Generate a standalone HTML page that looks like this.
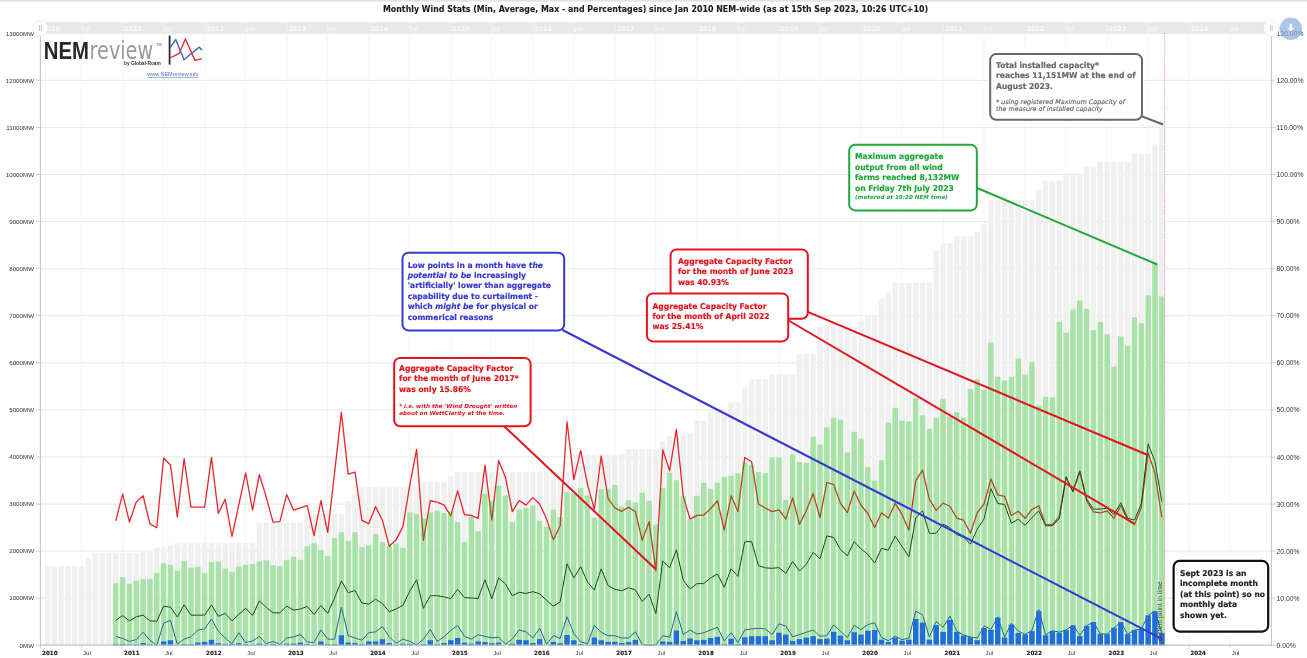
<!DOCTYPE html>
<html><head><meta charset="utf-8"><title>Monthly Wind Stats</title>
<style>html,body{margin:0;padding:0;background:#fff;overflow:hidden}body{width:1307px;height:658px;position:relative}</style>
</head><body>
<svg width="1307" height="658" viewBox="0 0 1307 658" style="position:absolute;left:0;top:0">
<rect x="0" y="0" width="1307" height="1.6" fill="#e2e2e2"/>
<text transform="translate(655.5,11.9) scale(0.94,1)" text-anchor="middle" font-family="'DejaVu Sans', 'Liberation Sans', sans-serif" font-weight="bold" font-size="8.4" fill="#1e1e1e" stroke="#1e1e1e" stroke-width="0.12">Monthly Wind Stats (Min, Average, Max - and Percentages) since Jan 2010 NEM-wide (as at 15th Sep 2023, 10:26 UTC+10)</text>
<line x1="40.8" x2="40.8" y1="33.2" y2="645.3" stroke="#f6f6f6" stroke-width="1"/>
<line x1="81.5" x2="81.5" y1="33.2" y2="645.3" stroke="#f6f6f6" stroke-width="1"/>
<line x1="122.8" x2="122.8" y1="33.2" y2="645.3" stroke="#f6f6f6" stroke-width="1"/>
<line x1="163.4" x2="163.4" y1="33.2" y2="645.3" stroke="#f6f6f6" stroke-width="1"/>
<line x1="204.8" x2="204.8" y1="33.2" y2="645.3" stroke="#f6f6f6" stroke-width="1"/>
<line x1="245.6" x2="245.6" y1="33.2" y2="645.3" stroke="#f6f6f6" stroke-width="1"/>
<line x1="287.0" x2="287.0" y1="33.2" y2="645.3" stroke="#f6f6f6" stroke-width="1"/>
<line x1="327.6" x2="327.6" y1="33.2" y2="645.3" stroke="#f6f6f6" stroke-width="1"/>
<line x1="369.0" x2="369.0" y1="33.2" y2="645.3" stroke="#f6f6f6" stroke-width="1"/>
<line x1="409.6" x2="409.6" y1="33.2" y2="645.3" stroke="#f6f6f6" stroke-width="1"/>
<line x1="450.9" x2="450.9" y1="33.2" y2="645.3" stroke="#f6f6f6" stroke-width="1"/>
<line x1="491.6" x2="491.6" y1="33.2" y2="645.3" stroke="#f6f6f6" stroke-width="1"/>
<line x1="532.9" x2="532.9" y1="33.2" y2="645.3" stroke="#f6f6f6" stroke-width="1"/>
<line x1="573.8" x2="573.8" y1="33.2" y2="645.3" stroke="#f6f6f6" stroke-width="1"/>
<line x1="615.1" x2="615.1" y1="33.2" y2="645.3" stroke="#f6f6f6" stroke-width="1"/>
<line x1="655.8" x2="655.8" y1="33.2" y2="645.3" stroke="#f6f6f6" stroke-width="1"/>
<line x1="697.1" x2="697.1" y1="33.2" y2="645.3" stroke="#f6f6f6" stroke-width="1"/>
<line x1="737.8" x2="737.8" y1="33.2" y2="645.3" stroke="#f6f6f6" stroke-width="1"/>
<line x1="779.1" x2="779.1" y1="33.2" y2="645.3" stroke="#f6f6f6" stroke-width="1"/>
<line x1="819.8" x2="819.8" y1="33.2" y2="645.3" stroke="#f6f6f6" stroke-width="1"/>
<line x1="861.1" x2="861.1" y1="33.2" y2="645.3" stroke="#f6f6f6" stroke-width="1"/>
<line x1="902.0" x2="902.0" y1="33.2" y2="645.3" stroke="#f6f6f6" stroke-width="1"/>
<line x1="943.3" x2="943.3" y1="33.2" y2="645.3" stroke="#f6f6f6" stroke-width="1"/>
<line x1="984.0" x2="984.0" y1="33.2" y2="645.3" stroke="#f6f6f6" stroke-width="1"/>
<line x1="1025.3" x2="1025.3" y1="33.2" y2="645.3" stroke="#f6f6f6" stroke-width="1"/>
<line x1="1065.9" x2="1065.9" y1="33.2" y2="645.3" stroke="#f6f6f6" stroke-width="1"/>
<line x1="1107.3" x2="1107.3" y1="33.2" y2="645.3" stroke="#f6f6f6" stroke-width="1"/>
<line x1="1147.9" x2="1147.9" y1="33.2" y2="645.3" stroke="#f6f6f6" stroke-width="1"/>
<line x1="1189.2" x2="1189.2" y1="33.2" y2="645.3" stroke="#f6f6f6" stroke-width="1"/>
<line x1="1230.1" x2="1230.1" y1="33.2" y2="645.3" stroke="#f6f6f6" stroke-width="1"/>
<line x1="40.4" x2="1271.4" y1="645.3" y2="645.3" stroke="#e8e8e8" stroke-width="1"/>
<line x1="40.4" x2="1271.4" y1="598.2" y2="598.2" stroke="#e8e8e8" stroke-width="1"/>
<line x1="40.4" x2="1271.4" y1="551.1" y2="551.1" stroke="#e8e8e8" stroke-width="1"/>
<line x1="40.4" x2="1271.4" y1="504.1" y2="504.1" stroke="#e8e8e8" stroke-width="1"/>
<line x1="40.4" x2="1271.4" y1="457.0" y2="457.0" stroke="#e8e8e8" stroke-width="1"/>
<line x1="40.4" x2="1271.4" y1="409.9" y2="409.9" stroke="#e8e8e8" stroke-width="1"/>
<line x1="40.4" x2="1271.4" y1="362.8" y2="362.8" stroke="#e8e8e8" stroke-width="1"/>
<line x1="40.4" x2="1271.4" y1="315.7" y2="315.7" stroke="#e8e8e8" stroke-width="1"/>
<line x1="40.4" x2="1271.4" y1="268.7" y2="268.7" stroke="#e8e8e8" stroke-width="1"/>
<line x1="40.4" x2="1271.4" y1="221.6" y2="221.6" stroke="#e8e8e8" stroke-width="1"/>
<line x1="40.4" x2="1271.4" y1="174.5" y2="174.5" stroke="#e8e8e8" stroke-width="1"/>
<line x1="40.4" x2="1271.4" y1="127.4" y2="127.4" stroke="#e8e8e8" stroke-width="1"/>
<line x1="40.4" x2="1271.4" y1="80.3" y2="80.3" stroke="#e8e8e8" stroke-width="1"/>
<line x1="40.4" x2="1271.4" y1="33.3" y2="33.3" stroke="#e8e8e8" stroke-width="1"/>
<rect x="44.65" y="566.02" width="5.5" height="79.28" fill="#f0f0f0"/>
<rect x="51.49" y="566.02" width="5.5" height="79.28" fill="#f0f0f0"/>
<rect x="58.32" y="566.02" width="5.5" height="79.28" fill="#f0f0f0"/>
<rect x="65.16" y="566.02" width="5.5" height="79.28" fill="#f0f0f0"/>
<rect x="72.00" y="566.02" width="5.5" height="79.28" fill="#f0f0f0"/>
<rect x="78.84" y="566.02" width="5.5" height="79.28" fill="#f0f0f0"/>
<rect x="85.67" y="558.48" width="5.5" height="86.82" fill="#f0f0f0"/>
<rect x="92.51" y="553.26" width="5.5" height="92.04" fill="#f0f0f0"/>
<rect x="99.35" y="553.26" width="5.5" height="92.04" fill="#f0f0f0"/>
<rect x="106.18" y="553.26" width="5.5" height="92.04" fill="#f0f0f0"/>
<rect x="113.02" y="553.26" width="5.5" height="92.04" fill="#f0f0f0"/>
<rect x="119.86" y="553.26" width="5.5" height="92.04" fill="#f0f0f0"/>
<rect x="126.69" y="553.26" width="5.5" height="92.04" fill="#f0f0f0"/>
<rect x="133.53" y="553.26" width="5.5" height="92.04" fill="#f0f0f0"/>
<rect x="140.37" y="551.14" width="5.5" height="94.16" fill="#f0f0f0"/>
<rect x="147.20" y="551.14" width="5.5" height="94.16" fill="#f0f0f0"/>
<rect x="154.04" y="547.75" width="5.5" height="97.55" fill="#f0f0f0"/>
<rect x="160.88" y="547.75" width="5.5" height="97.55" fill="#f0f0f0"/>
<rect x="167.72" y="545.49" width="5.5" height="99.81" fill="#f0f0f0"/>
<rect x="174.55" y="542.76" width="5.5" height="102.54" fill="#f0f0f0"/>
<rect x="181.39" y="542.76" width="5.5" height="102.54" fill="#f0f0f0"/>
<rect x="188.23" y="542.76" width="5.5" height="102.54" fill="#f0f0f0"/>
<rect x="195.06" y="542.76" width="5.5" height="102.54" fill="#f0f0f0"/>
<rect x="201.90" y="542.76" width="5.5" height="102.54" fill="#f0f0f0"/>
<rect x="208.74" y="542.76" width="5.5" height="102.54" fill="#f0f0f0"/>
<rect x="215.57" y="542.76" width="5.5" height="102.54" fill="#f0f0f0"/>
<rect x="222.41" y="542.76" width="5.5" height="102.54" fill="#f0f0f0"/>
<rect x="229.25" y="542.76" width="5.5" height="102.54" fill="#f0f0f0"/>
<rect x="236.09" y="542.76" width="5.5" height="102.54" fill="#f0f0f0"/>
<rect x="242.92" y="542.76" width="5.5" height="102.54" fill="#f0f0f0"/>
<rect x="249.76" y="542.76" width="5.5" height="102.54" fill="#f0f0f0"/>
<rect x="256.60" y="522.61" width="5.5" height="122.69" fill="#f0f0f0"/>
<rect x="263.43" y="522.61" width="5.5" height="122.69" fill="#f0f0f0"/>
<rect x="270.27" y="522.61" width="5.5" height="122.69" fill="#f0f0f0"/>
<rect x="277.11" y="522.61" width="5.5" height="122.69" fill="#f0f0f0"/>
<rect x="283.94" y="522.61" width="5.5" height="122.69" fill="#f0f0f0"/>
<rect x="290.78" y="522.61" width="5.5" height="122.69" fill="#f0f0f0"/>
<rect x="297.62" y="522.61" width="5.5" height="122.69" fill="#f0f0f0"/>
<rect x="304.46" y="514.04" width="5.5" height="131.26" fill="#f0f0f0"/>
<rect x="311.29" y="514.04" width="5.5" height="131.26" fill="#f0f0f0"/>
<rect x="318.13" y="514.04" width="5.5" height="131.26" fill="#f0f0f0"/>
<rect x="324.97" y="514.04" width="5.5" height="131.26" fill="#f0f0f0"/>
<rect x="331.80" y="514.04" width="5.5" height="131.26" fill="#f0f0f0"/>
<rect x="338.64" y="514.04" width="5.5" height="131.26" fill="#f0f0f0"/>
<rect x="345.48" y="501.00" width="5.5" height="144.30" fill="#f0f0f0"/>
<rect x="352.31" y="494.60" width="5.5" height="150.70" fill="#f0f0f0"/>
<rect x="359.15" y="487.30" width="5.5" height="158.00" fill="#f0f0f0"/>
<rect x="365.99" y="487.30" width="5.5" height="158.00" fill="#f0f0f0"/>
<rect x="372.83" y="487.30" width="5.5" height="158.00" fill="#f0f0f0"/>
<rect x="379.66" y="487.30" width="5.5" height="158.00" fill="#f0f0f0"/>
<rect x="386.50" y="487.30" width="5.5" height="158.00" fill="#f0f0f0"/>
<rect x="393.34" y="487.30" width="5.5" height="158.00" fill="#f0f0f0"/>
<rect x="400.17" y="487.30" width="5.5" height="158.00" fill="#f0f0f0"/>
<rect x="407.01" y="487.30" width="5.5" height="158.00" fill="#f0f0f0"/>
<rect x="413.85" y="487.30" width="5.5" height="158.00" fill="#f0f0f0"/>
<rect x="420.68" y="482.07" width="5.5" height="163.23" fill="#f0f0f0"/>
<rect x="427.52" y="482.07" width="5.5" height="163.23" fill="#f0f0f0"/>
<rect x="434.36" y="482.07" width="5.5" height="163.23" fill="#f0f0f0"/>
<rect x="441.20" y="482.07" width="5.5" height="163.23" fill="#f0f0f0"/>
<rect x="448.03" y="476.33" width="5.5" height="168.97" fill="#f0f0f0"/>
<rect x="454.87" y="472.05" width="5.5" height="173.25" fill="#f0f0f0"/>
<rect x="461.71" y="472.05" width="5.5" height="173.25" fill="#f0f0f0"/>
<rect x="468.54" y="472.05" width="5.5" height="173.25" fill="#f0f0f0"/>
<rect x="475.38" y="472.05" width="5.5" height="173.25" fill="#f0f0f0"/>
<rect x="482.22" y="472.05" width="5.5" height="173.25" fill="#f0f0f0"/>
<rect x="489.05" y="472.05" width="5.5" height="173.25" fill="#f0f0f0"/>
<rect x="495.89" y="472.05" width="5.5" height="173.25" fill="#f0f0f0"/>
<rect x="502.73" y="472.05" width="5.5" height="173.25" fill="#f0f0f0"/>
<rect x="509.57" y="472.05" width="5.5" height="173.25" fill="#f0f0f0"/>
<rect x="516.40" y="472.05" width="5.5" height="173.25" fill="#f0f0f0"/>
<rect x="523.24" y="472.05" width="5.5" height="173.25" fill="#f0f0f0"/>
<rect x="530.08" y="472.05" width="5.5" height="173.25" fill="#f0f0f0"/>
<rect x="536.91" y="472.05" width="5.5" height="173.25" fill="#f0f0f0"/>
<rect x="543.75" y="472.05" width="5.5" height="173.25" fill="#f0f0f0"/>
<rect x="550.59" y="472.05" width="5.5" height="173.25" fill="#f0f0f0"/>
<rect x="557.42" y="472.05" width="5.5" height="173.25" fill="#f0f0f0"/>
<rect x="564.26" y="472.05" width="5.5" height="173.25" fill="#f0f0f0"/>
<rect x="571.10" y="454.44" width="5.5" height="190.86" fill="#f0f0f0"/>
<rect x="577.94" y="454.44" width="5.5" height="190.86" fill="#f0f0f0"/>
<rect x="584.77" y="454.44" width="5.5" height="190.86" fill="#f0f0f0"/>
<rect x="591.61" y="454.44" width="5.5" height="190.86" fill="#f0f0f0"/>
<rect x="598.45" y="454.44" width="5.5" height="190.86" fill="#f0f0f0"/>
<rect x="605.28" y="454.44" width="5.5" height="190.86" fill="#f0f0f0"/>
<rect x="612.12" y="454.44" width="5.5" height="190.86" fill="#f0f0f0"/>
<rect x="618.96" y="453.78" width="5.5" height="191.52" fill="#f0f0f0"/>
<rect x="625.79" y="449.31" width="5.5" height="195.99" fill="#f0f0f0"/>
<rect x="632.63" y="449.31" width="5.5" height="195.99" fill="#f0f0f0"/>
<rect x="639.47" y="449.31" width="5.5" height="195.99" fill="#f0f0f0"/>
<rect x="646.31" y="449.31" width="5.5" height="195.99" fill="#f0f0f0"/>
<rect x="653.14" y="449.31" width="5.5" height="195.99" fill="#f0f0f0"/>
<rect x="659.98" y="440.97" width="5.5" height="204.33" fill="#f0f0f0"/>
<rect x="666.82" y="436.03" width="5.5" height="209.27" fill="#f0f0f0"/>
<rect x="673.65" y="436.03" width="5.5" height="209.27" fill="#f0f0f0"/>
<rect x="680.49" y="436.03" width="5.5" height="209.27" fill="#f0f0f0"/>
<rect x="687.33" y="433.30" width="5.5" height="212.00" fill="#f0f0f0"/>
<rect x="694.16" y="420.82" width="5.5" height="224.48" fill="#f0f0f0"/>
<rect x="701.00" y="420.82" width="5.5" height="224.48" fill="#f0f0f0"/>
<rect x="707.84" y="411.27" width="5.5" height="234.03" fill="#f0f0f0"/>
<rect x="714.68" y="411.27" width="5.5" height="234.03" fill="#f0f0f0"/>
<rect x="721.51" y="411.27" width="5.5" height="234.03" fill="#f0f0f0"/>
<rect x="728.35" y="402.51" width="5.5" height="242.79" fill="#f0f0f0"/>
<rect x="735.19" y="402.51" width="5.5" height="242.79" fill="#f0f0f0"/>
<rect x="742.02" y="387.44" width="5.5" height="257.86" fill="#f0f0f0"/>
<rect x="748.86" y="379.20" width="5.5" height="266.10" fill="#f0f0f0"/>
<rect x="755.70" y="379.20" width="5.5" height="266.10" fill="#f0f0f0"/>
<rect x="762.53" y="379.20" width="5.5" height="266.10" fill="#f0f0f0"/>
<rect x="769.37" y="374.26" width="5.5" height="271.04" fill="#f0f0f0"/>
<rect x="776.21" y="374.26" width="5.5" height="271.04" fill="#f0f0f0"/>
<rect x="783.05" y="374.26" width="5.5" height="271.04" fill="#f0f0f0"/>
<rect x="789.88" y="374.26" width="5.5" height="271.04" fill="#f0f0f0"/>
<rect x="796.72" y="353.87" width="5.5" height="291.43" fill="#f0f0f0"/>
<rect x="803.56" y="353.87" width="5.5" height="291.43" fill="#f0f0f0"/>
<rect x="810.39" y="353.87" width="5.5" height="291.43" fill="#f0f0f0"/>
<rect x="817.23" y="326.85" width="5.5" height="318.45" fill="#f0f0f0"/>
<rect x="824.07" y="326.85" width="5.5" height="318.45" fill="#f0f0f0"/>
<rect x="830.90" y="326.85" width="5.5" height="318.45" fill="#f0f0f0"/>
<rect x="837.74" y="326.85" width="5.5" height="318.45" fill="#f0f0f0"/>
<rect x="844.58" y="326.85" width="5.5" height="318.45" fill="#f0f0f0"/>
<rect x="851.42" y="326.85" width="5.5" height="318.45" fill="#f0f0f0"/>
<rect x="858.25" y="321.11" width="5.5" height="324.19" fill="#f0f0f0"/>
<rect x="865.09" y="314.52" width="5.5" height="330.78" fill="#f0f0f0"/>
<rect x="871.93" y="314.52" width="5.5" height="330.78" fill="#f0f0f0"/>
<rect x="878.76" y="298.65" width="5.5" height="346.65" fill="#f0f0f0"/>
<rect x="885.60" y="292.34" width="5.5" height="352.96" fill="#f0f0f0"/>
<rect x="892.44" y="282.74" width="5.5" height="362.56" fill="#f0f0f0"/>
<rect x="899.27" y="282.74" width="5.5" height="362.56" fill="#f0f0f0"/>
<rect x="906.11" y="282.74" width="5.5" height="362.56" fill="#f0f0f0"/>
<rect x="912.95" y="282.74" width="5.5" height="362.56" fill="#f0f0f0"/>
<rect x="919.79" y="282.74" width="5.5" height="362.56" fill="#f0f0f0"/>
<rect x="926.62" y="282.74" width="5.5" height="362.56" fill="#f0f0f0"/>
<rect x="933.46" y="250.96" width="5.5" height="394.34" fill="#f0f0f0"/>
<rect x="940.30" y="243.28" width="5.5" height="402.02" fill="#f0f0f0"/>
<rect x="947.13" y="243.28" width="5.5" height="402.02" fill="#f0f0f0"/>
<rect x="953.97" y="235.89" width="5.5" height="409.41" fill="#f0f0f0"/>
<rect x="960.81" y="235.89" width="5.5" height="409.41" fill="#f0f0f0"/>
<rect x="967.64" y="235.89" width="5.5" height="409.41" fill="#f0f0f0"/>
<rect x="974.48" y="231.75" width="5.5" height="413.55" fill="#f0f0f0"/>
<rect x="981.32" y="224.36" width="5.5" height="420.94" fill="#f0f0f0"/>
<rect x="988.16" y="200.25" width="5.5" height="445.05" fill="#f0f0f0"/>
<rect x="994.99" y="200.25" width="5.5" height="445.05" fill="#f0f0f0"/>
<rect x="1001.83" y="200.25" width="5.5" height="445.05" fill="#f0f0f0"/>
<rect x="1008.67" y="200.25" width="5.5" height="445.05" fill="#f0f0f0"/>
<rect x="1015.50" y="200.25" width="5.5" height="445.05" fill="#f0f0f0"/>
<rect x="1022.34" y="200.25" width="5.5" height="445.05" fill="#f0f0f0"/>
<rect x="1029.18" y="200.25" width="5.5" height="445.05" fill="#f0f0f0"/>
<rect x="1036.02" y="190.51" width="5.5" height="454.79" fill="#f0f0f0"/>
<rect x="1042.85" y="180.62" width="5.5" height="464.68" fill="#f0f0f0"/>
<rect x="1049.69" y="180.62" width="5.5" height="464.68" fill="#f0f0f0"/>
<rect x="1056.53" y="180.62" width="5.5" height="464.68" fill="#f0f0f0"/>
<rect x="1063.36" y="173.51" width="5.5" height="471.79" fill="#f0f0f0"/>
<rect x="1070.20" y="173.51" width="5.5" height="471.79" fill="#f0f0f0"/>
<rect x="1077.04" y="173.51" width="5.5" height="471.79" fill="#f0f0f0"/>
<rect x="1083.87" y="166.92" width="5.5" height="478.38" fill="#f0f0f0"/>
<rect x="1090.71" y="166.92" width="5.5" height="478.38" fill="#f0f0f0"/>
<rect x="1097.55" y="161.84" width="5.5" height="483.46" fill="#f0f0f0"/>
<rect x="1104.38" y="161.84" width="5.5" height="483.46" fill="#f0f0f0"/>
<rect x="1111.22" y="161.84" width="5.5" height="483.46" fill="#f0f0f0"/>
<rect x="1118.06" y="161.84" width="5.5" height="483.46" fill="#f0f0f0"/>
<rect x="1124.90" y="161.84" width="5.5" height="483.46" fill="#f0f0f0"/>
<rect x="1131.73" y="153.64" width="5.5" height="491.66" fill="#f0f0f0"/>
<rect x="1138.57" y="153.64" width="5.5" height="491.66" fill="#f0f0f0"/>
<rect x="1145.41" y="153.64" width="5.5" height="491.66" fill="#f0f0f0"/>
<rect x="1152.24" y="144.46" width="5.5" height="500.84" fill="#f0f0f0"/>
<rect x="1159.08" y="120.31" width="5.5" height="524.99" fill="#f0f0f0"/>
<polyline points="115.77,520.87 122.61,493.94 129.44,522.04 136.28,501.94 143.12,495.77 149.95,523.83 156.79,527.74 163.63,458.06 170.47,464.94 177.30,517.01 184.14,458.53 190.98,507.17 197.81,507.17 204.65,507.17 211.49,457.40 218.32,513.57 225.16,499.21 232.00,536.40 238.84,504.67 245.67,472.94 252.51,510.13 259.35,474.54 266.18,496.90 273.02,522.04 279.86,521.57 286.69,494.60 293.53,510.13 300.37,507.87 307.21,505.57 314.04,535.74 320.88,500.76 327.72,532.31 334.55,472.94 341.39,412.40 348.23,474.07 355.06,472.23 361.90,520.44 368.74,523.83 375.58,506.70 382.41,520.21 389.25,546.29 396.09,539.84 402.92,526.61 409.76,485.46 416.60,449.40 423.43,540.31 430.27,500.76 437.11,502.18 443.95,504.91 450.78,515.88 457.62,490.88 464.46,514.75 471.29,515.41 478.13,518.37 484.97,465.17 491.80,519.97 498.64,460.61 505.48,477.27 512.32,511.55 519.15,500.58 525.99,505.14 532.83,497.61 539.66,504.01 546.50,518.84 553.34,539.84 560.17,525.72 567.01,421.76 573.85,479.58 580.69,450.34 587.52,484.57 594.36,509.24 601.20,456.04 608.03,498.32 614.87,507.87 621.71,511.31 628.54,507.40 635.38,511.55 642.22,540.31 649.06,521.71 655.89,570.63 662.73,449.78 669.57,470.87 676.40,429.44 683.24,496.24 690.08,519.13 696.91,515.36 703.75,514.98 710.59,508.77 717.43,500.58 724.26,530.00 731.10,495.82 737.94,511.59 744.77,457.45 751.61,461.69 758.45,504.06 765.28,507.97 772.12,511.55 778.96,509.90 785.80,518.94 792.63,497.85 799.47,524.30 806.31,510.75 813.14,493.47 819.98,517.57 826.82,482.50 833.65,484.66 840.49,503.31 847.33,512.63 854.17,490.97 861.00,505.24 867.84,513.48 874.68,527.60 881.51,512.82 888.35,518.00 895.19,503.35 902.02,514.42 908.86,530.19 915.70,480.90 922.54,470.12 929.37,499.35 936.21,510.42 943.05,503.12 949.88,506.27 956.72,518.04 963.56,520.07 970.39,533.20 977.23,512.77 984.07,504.01 990.91,478.97 997.74,494.88 1004.58,496.34 1011.42,515.50 1018.25,511.31 1025.09,518.23 1031.93,509.47 1038.77,505.80 1045.60,524.63 1052.44,524.63 1059.28,516.39 1066.11,477.70 1072.95,491.21 1079.79,471.67 1086.62,500.91 1093.46,511.83 1100.30,512.77 1107.13,510.93 1113.97,518.23 1120.81,505.47 1127.65,520.07 1134.48,524.63 1141.32,507.26 1148.16,452.60 1154.99,473.51 1161.83,517.34" fill="none" stroke="#e8262b" stroke-width="1.3" stroke-linejoin="round"/>
<polyline points="115.77,620.39 122.61,615.59 129.44,620.87 136.28,616.77 143.12,615.17 149.95,620.87 156.79,621.34 163.63,606.22 170.47,607.17 177.30,616.96 184.14,604.86 190.98,615.17 197.81,615.17 204.65,615.17 211.49,604.86 218.32,616.30 225.16,613.33 232.00,620.87 238.84,614.46 245.67,608.30 252.51,615.40 259.35,601.00 266.18,607.17 273.02,612.86 279.86,612.86 286.69,605.99 293.53,610.13 300.37,609.00 307.21,606.46 314.04,614.46 320.88,605.56 327.72,613.33 334.55,598.03 341.39,580.89 348.23,592.76 355.06,590.50 361.90,603.02 368.74,604.20 375.58,599.16 382.41,603.73 389.25,611.73 396.09,609.00 402.92,605.33 409.76,591.16 416.60,579.72 423.43,608.30 430.27,595.72 437.11,595.72 443.95,596.85 450.78,598.69 457.62,589.32 464.46,597.56 471.29,598.03 478.13,598.46 484.97,579.72 491.80,598.69 498.64,577.93 505.48,583.86 512.32,595.72 519.15,592.29 525.99,593.46 532.83,591.63 539.66,593.89 546.50,600.29 553.34,606.22 560.17,601.89 567.01,563.76 573.85,577.93 580.69,566.72 587.52,582.02 594.36,590.03 601.20,568.79 608.03,585.46 614.87,589.32 621.71,590.69 628.54,587.72 635.38,590.03 642.22,601.42 649.06,594.12 655.89,613.57 662.73,561.03 669.57,567.85 676.40,549.82 683.24,580.19 690.08,588.90 696.91,583.63 703.75,583.63 710.59,577.93 717.43,574.02 724.26,587.30 731.10,568.79 737.94,576.33 744.77,541.82 751.61,541.54 758.45,565.59 765.28,567.85 772.12,568.32 778.96,567.62 785.80,573.36 792.63,561.45 799.47,571.05 806.31,564.23 813.14,552.32 819.98,558.72 826.82,535.89 833.65,537.49 840.49,549.59 847.33,555.75 854.17,541.58 861.00,548.88 867.84,554.44 874.68,563.05 881.51,548.27 888.35,550.10 895.19,536.12 902.02,546.48 908.86,556.84 915.70,518.00 922.54,510.79 929.37,533.30 936.21,533.30 943.05,524.21 949.88,527.60 956.72,534.57 963.56,537.16 970.39,544.08 977.23,529.20 984.07,518.84 990.91,488.71 997.74,503.50 1004.58,504.44 1011.42,523.27 1018.25,519.13 1025.09,525.34 1031.93,517.48 1038.77,510.93 1045.60,525.72 1052.44,525.72 1059.28,518.70 1066.11,476.61 1072.95,491.77 1079.79,470.73 1086.62,499.07 1093.46,509.10 1100.30,509.10 1107.13,508.20 1113.97,514.61 1120.81,502.69 1127.65,518.23 1134.48,520.07 1141.32,503.64 1148.16,443.89 1154.99,461.59 1161.83,501.80" fill="none" stroke="#262626" stroke-width="1.0" stroke-linejoin="round"/>
<polyline points="115.77,636.40 122.61,638.43 129.44,641.44 136.28,639.60 143.12,632.26 149.95,640.26 156.79,645.30 163.63,623.13 170.47,620.39 177.30,644.17 184.14,639.13 190.98,636.83 197.81,630.00 204.65,628.87 211.49,619.03 218.32,631.13 225.16,638.00 232.00,643.70 238.84,632.73 245.67,642.57 252.51,640.97 259.35,636.40 266.18,643.70 273.02,641.44 279.86,644.41 286.69,638.00 293.53,636.83 300.37,634.57 307.21,641.86 314.04,642.57 320.88,630.00 327.72,639.13 334.55,639.13 341.39,607.17 348.23,635.70 355.06,638.00 361.90,640.26 368.74,632.73 375.58,631.84 382.41,626.56 389.25,636.83 396.09,643.23 402.92,639.13 409.76,641.44 416.60,644.83 423.43,639.13 430.27,629.53 437.11,641.44 443.95,636.83 450.78,630.47 457.62,625.43 464.46,636.40 471.29,639.13 478.13,634.57 484.97,636.40 491.80,637.77 498.64,637.30 505.48,644.17 512.32,639.13 519.15,630.00 525.99,631.84 532.83,638.00 539.66,628.16 546.50,644.17 553.34,635.70 560.17,638.43 567.01,616.77 573.85,633.44 580.69,641.86 587.52,643.70 594.36,625.43 601.20,632.26 608.03,635.70 614.87,635.70 621.71,638.00 628.54,638.00 635.38,631.84 642.22,644.41 649.06,645.30 655.89,644.83 662.73,635.70 669.57,637.30 676.40,611.73 683.24,634.57 690.08,630.00 696.91,634.09 703.75,632.73 710.59,630.00 717.43,627.27 724.26,640.97 731.10,632.73 737.94,642.57 744.77,630.00 751.61,628.87 758.45,628.40 765.28,628.87 772.12,634.57 778.96,623.83 785.80,626.14 792.63,636.83 799.47,634.57 806.31,632.26 813.14,630.00 819.98,636.17 826.82,635.70 833.65,624.96 840.49,631.13 847.33,637.53 854.17,625.43 861.00,629.53 867.84,624.58 874.68,622.84 881.51,637.58 888.35,640.69 895.19,636.26 902.02,639.65 908.86,638.10 915.70,611.17 922.54,614.79 929.37,637.06 936.21,621.52 943.05,627.22 949.88,616.06 956.72,631.08 963.56,634.99 970.39,637.06 977.23,638.10 984.07,625.90 990.91,629.29 997.74,616.86 1004.58,637.06 1011.42,623.31 1018.25,631.08 1025.09,634.47 1031.93,630.33 1038.77,609.61 1045.60,634.94 1052.44,630.80 1059.28,632.16 1066.11,629.72 1072.95,625.34 1079.79,635.22 1086.62,625.62 1093.46,622.18 1100.30,633.81 1107.13,634.09 1113.97,627.93 1120.81,622.18 1127.65,634.09 1134.48,630.14 1141.32,629.06 1148.16,615.36 1154.99,611.21 1161.83,633.15" fill="none" stroke="#3050b8" stroke-width="1.0" stroke-linejoin="round"/>
<rect x="113.02" y="583.15" width="5.5" height="62.15" fill="#00c800" fill-opacity="0.3"/>
<rect x="119.86" y="576.99" width="5.5" height="68.31" fill="#00c800" fill-opacity="0.3"/>
<rect x="126.69" y="583.86" width="5.5" height="61.44" fill="#00c800" fill-opacity="0.3"/>
<rect x="133.53" y="580.66" width="5.5" height="64.64" fill="#00c800" fill-opacity="0.3"/>
<rect x="140.37" y="579.06" width="5.5" height="66.24" fill="#00c800" fill-opacity="0.3"/>
<rect x="147.20" y="579.06" width="5.5" height="66.24" fill="#00c800" fill-opacity="0.3"/>
<rect x="154.04" y="572.89" width="5.5" height="72.41" fill="#00c800" fill-opacity="0.3"/>
<rect x="160.88" y="563.29" width="5.5" height="82.01" fill="#00c800" fill-opacity="0.3"/>
<rect x="167.72" y="564.89" width="5.5" height="80.41" fill="#00c800" fill-opacity="0.3"/>
<rect x="174.55" y="570.82" width="5.5" height="74.48" fill="#00c800" fill-opacity="0.3"/>
<rect x="181.39" y="561.03" width="5.5" height="84.27" fill="#00c800" fill-opacity="0.3"/>
<rect x="188.23" y="567.62" width="5.5" height="77.68" fill="#00c800" fill-opacity="0.3"/>
<rect x="195.06" y="566.72" width="5.5" height="78.58" fill="#00c800" fill-opacity="0.3"/>
<rect x="201.90" y="573.13" width="5.5" height="72.17" fill="#00c800" fill-opacity="0.3"/>
<rect x="208.74" y="561.92" width="5.5" height="83.38" fill="#00c800" fill-opacity="0.3"/>
<rect x="215.57" y="561.69" width="5.5" height="83.61" fill="#00c800" fill-opacity="0.3"/>
<rect x="222.41" y="568.56" width="5.5" height="76.74" fill="#00c800" fill-opacity="0.3"/>
<rect x="229.25" y="571.76" width="5.5" height="73.54" fill="#00c800" fill-opacity="0.3"/>
<rect x="236.09" y="566.49" width="5.5" height="78.81" fill="#00c800" fill-opacity="0.3"/>
<rect x="242.92" y="564.89" width="5.5" height="80.41" fill="#00c800" fill-opacity="0.3"/>
<rect x="249.76" y="563.99" width="5.5" height="81.31" fill="#00c800" fill-opacity="0.3"/>
<rect x="256.60" y="561.45" width="5.5" height="83.85" fill="#00c800" fill-opacity="0.3"/>
<rect x="263.43" y="560.32" width="5.5" height="84.98" fill="#00c800" fill-opacity="0.3"/>
<rect x="270.27" y="565.36" width="5.5" height="79.94" fill="#00c800" fill-opacity="0.3"/>
<rect x="277.11" y="566.02" width="5.5" height="79.28" fill="#00c800" fill-opacity="0.3"/>
<rect x="283.94" y="560.32" width="5.5" height="84.98" fill="#00c800" fill-opacity="0.3"/>
<rect x="290.78" y="556.65" width="5.5" height="88.65" fill="#00c800" fill-opacity="0.3"/>
<rect x="297.62" y="559.85" width="5.5" height="85.45" fill="#00c800" fill-opacity="0.3"/>
<rect x="304.46" y="546.15" width="5.5" height="99.15" fill="#00c800" fill-opacity="0.3"/>
<rect x="311.29" y="543.18" width="5.5" height="102.12" fill="#00c800" fill-opacity="0.3"/>
<rect x="318.13" y="549.82" width="5.5" height="95.48" fill="#00c800" fill-opacity="0.3"/>
<rect x="324.97" y="555.99" width="5.5" height="89.31" fill="#00c800" fill-opacity="0.3"/>
<rect x="331.80" y="538.15" width="5.5" height="107.15" fill="#00c800" fill-opacity="0.3"/>
<rect x="338.64" y="532.21" width="5.5" height="113.09" fill="#00c800" fill-opacity="0.3"/>
<rect x="345.48" y="540.92" width="5.5" height="104.38" fill="#00c800" fill-opacity="0.3"/>
<rect x="352.31" y="532.21" width="5.5" height="113.09" fill="#00c800" fill-opacity="0.3"/>
<rect x="359.15" y="547.09" width="5.5" height="98.21" fill="#00c800" fill-opacity="0.3"/>
<rect x="365.99" y="545.49" width="5.5" height="99.81" fill="#00c800" fill-opacity="0.3"/>
<rect x="372.83" y="534.05" width="5.5" height="111.25" fill="#00c800" fill-opacity="0.3"/>
<rect x="379.66" y="542.05" width="5.5" height="103.25" fill="#00c800" fill-opacity="0.3"/>
<rect x="386.50" y="545.49" width="5.5" height="99.81" fill="#00c800" fill-opacity="0.3"/>
<rect x="393.34" y="543.89" width="5.5" height="101.41" fill="#00c800" fill-opacity="0.3"/>
<rect x="400.17" y="547.75" width="5.5" height="97.55" fill="#00c800" fill-opacity="0.3"/>
<rect x="407.01" y="512.35" width="5.5" height="132.95" fill="#00c800" fill-opacity="0.3"/>
<rect x="413.85" y="513.95" width="5.5" height="131.35" fill="#00c800" fill-opacity="0.3"/>
<rect x="420.68" y="518.51" width="5.5" height="126.79" fill="#00c800" fill-opacity="0.3"/>
<rect x="427.52" y="512.35" width="5.5" height="132.95" fill="#00c800" fill-opacity="0.3"/>
<rect x="434.36" y="510.75" width="5.5" height="134.55" fill="#00c800" fill-opacity="0.3"/>
<rect x="441.20" y="513.05" width="5.5" height="132.25" fill="#00c800" fill-opacity="0.3"/>
<rect x="448.03" y="511.22" width="5.5" height="134.08" fill="#00c800" fill-opacity="0.3"/>
<rect x="454.87" y="522.19" width="5.5" height="123.11" fill="#00c800" fill-opacity="0.3"/>
<rect x="461.71" y="542.05" width="5.5" height="103.25" fill="#00c800" fill-opacity="0.3"/>
<rect x="468.54" y="516.30" width="5.5" height="129.00" fill="#00c800" fill-opacity="0.3"/>
<rect x="475.38" y="531.08" width="5.5" height="114.22" fill="#00c800" fill-opacity="0.3"/>
<rect x="482.22" y="493.70" width="5.5" height="151.60" fill="#00c800" fill-opacity="0.3"/>
<rect x="489.05" y="500.58" width="5.5" height="144.72" fill="#00c800" fill-opacity="0.3"/>
<rect x="495.89" y="485.75" width="5.5" height="159.55" fill="#00c800" fill-opacity="0.3"/>
<rect x="502.73" y="495.54" width="5.5" height="149.76" fill="#00c800" fill-opacity="0.3"/>
<rect x="509.57" y="522.19" width="5.5" height="123.11" fill="#00c800" fill-opacity="0.3"/>
<rect x="516.40" y="509.52" width="5.5" height="135.78" fill="#00c800" fill-opacity="0.3"/>
<rect x="523.24" y="507.83" width="5.5" height="137.47" fill="#00c800" fill-opacity="0.3"/>
<rect x="530.08" y="505.57" width="5.5" height="139.73" fill="#00c800" fill-opacity="0.3"/>
<rect x="536.91" y="520.77" width="5.5" height="124.53" fill="#00c800" fill-opacity="0.3"/>
<rect x="543.75" y="526.80" width="5.5" height="118.50" fill="#00c800" fill-opacity="0.3"/>
<rect x="550.59" y="509.52" width="5.5" height="135.78" fill="#00c800" fill-opacity="0.3"/>
<rect x="557.42" y="516.96" width="5.5" height="128.34" fill="#00c800" fill-opacity="0.3"/>
<rect x="564.26" y="491.91" width="5.5" height="153.39" fill="#00c800" fill-opacity="0.3"/>
<rect x="571.10" y="493.70" width="5.5" height="151.60" fill="#00c800" fill-opacity="0.3"/>
<rect x="577.94" y="488.01" width="5.5" height="157.29" fill="#00c800" fill-opacity="0.3"/>
<rect x="584.77" y="495.54" width="5.5" height="149.76" fill="#00c800" fill-opacity="0.3"/>
<rect x="591.61" y="517.71" width="5.5" height="127.59" fill="#00c800" fill-opacity="0.3"/>
<rect x="598.45" y="489.18" width="5.5" height="156.12" fill="#00c800" fill-opacity="0.3"/>
<rect x="605.28" y="488.71" width="5.5" height="156.59" fill="#00c800" fill-opacity="0.3"/>
<rect x="612.12" y="485.04" width="5.5" height="160.26" fill="#00c800" fill-opacity="0.3"/>
<rect x="618.96" y="506.27" width="5.5" height="139.03" fill="#00c800" fill-opacity="0.3"/>
<rect x="625.79" y="500.11" width="5.5" height="145.19" fill="#00c800" fill-opacity="0.3"/>
<rect x="632.63" y="502.41" width="5.5" height="142.89" fill="#00c800" fill-opacity="0.3"/>
<rect x="639.47" y="492.76" width="5.5" height="152.54" fill="#00c800" fill-opacity="0.3"/>
<rect x="646.31" y="500.58" width="5.5" height="144.72" fill="#00c800" fill-opacity="0.3"/>
<rect x="653.14" y="524.49" width="5.5" height="120.81" fill="#00c800" fill-opacity="0.3"/>
<rect x="659.98" y="488.15" width="5.5" height="157.15" fill="#00c800" fill-opacity="0.3"/>
<rect x="666.82" y="472.61" width="5.5" height="172.69" fill="#00c800" fill-opacity="0.3"/>
<rect x="673.65" y="480.19" width="5.5" height="165.11" fill="#00c800" fill-opacity="0.3"/>
<rect x="680.49" y="496.06" width="5.5" height="149.24" fill="#00c800" fill-opacity="0.3"/>
<rect x="687.33" y="519.78" width="5.5" height="125.52" fill="#00c800" fill-opacity="0.3"/>
<rect x="694.16" y="495.77" width="5.5" height="149.53" fill="#00c800" fill-opacity="0.3"/>
<rect x="701.00" y="482.69" width="5.5" height="162.61" fill="#00c800" fill-opacity="0.3"/>
<rect x="707.84" y="489.04" width="5.5" height="156.26" fill="#00c800" fill-opacity="0.3"/>
<rect x="714.68" y="482.69" width="5.5" height="162.61" fill="#00c800" fill-opacity="0.3"/>
<rect x="721.51" y="477.08" width="5.5" height="168.22" fill="#00c800" fill-opacity="0.3"/>
<rect x="728.35" y="475.91" width="5.5" height="169.39" fill="#00c800" fill-opacity="0.3"/>
<rect x="735.19" y="473.22" width="5.5" height="172.08" fill="#00c800" fill-opacity="0.3"/>
<rect x="742.02" y="462.54" width="5.5" height="182.76" fill="#00c800" fill-opacity="0.3"/>
<rect x="748.86" y="465.22" width="5.5" height="180.08" fill="#00c800" fill-opacity="0.3"/>
<rect x="755.70" y="471.95" width="5.5" height="173.35" fill="#00c800" fill-opacity="0.3"/>
<rect x="762.53" y="473.18" width="5.5" height="172.12" fill="#00c800" fill-opacity="0.3"/>
<rect x="769.37" y="457.31" width="5.5" height="187.99" fill="#00c800" fill-opacity="0.3"/>
<rect x="776.21" y="457.31" width="5.5" height="187.99" fill="#00c800" fill-opacity="0.3"/>
<rect x="783.05" y="499.78" width="5.5" height="145.52" fill="#00c800" fill-opacity="0.3"/>
<rect x="789.88" y="454.53" width="5.5" height="190.77" fill="#00c800" fill-opacity="0.3"/>
<rect x="796.72" y="461.92" width="5.5" height="183.38" fill="#00c800" fill-opacity="0.3"/>
<rect x="803.56" y="462.77" width="5.5" height="182.53" fill="#00c800" fill-opacity="0.3"/>
<rect x="810.39" y="436.74" width="5.5" height="208.56" fill="#00c800" fill-opacity="0.3"/>
<rect x="817.23" y="444.41" width="5.5" height="200.89" fill="#00c800" fill-opacity="0.3"/>
<rect x="824.07" y="427.32" width="5.5" height="217.98" fill="#00c800" fill-opacity="0.3"/>
<rect x="830.90" y="417.90" width="5.5" height="227.40" fill="#00c800" fill-opacity="0.3"/>
<rect x="837.74" y="419.74" width="5.5" height="225.56" fill="#00c800" fill-opacity="0.3"/>
<rect x="844.58" y="452.37" width="5.5" height="192.93" fill="#00c800" fill-opacity="0.3"/>
<rect x="851.42" y="431.79" width="5.5" height="213.51" fill="#00c800" fill-opacity="0.3"/>
<rect x="858.25" y="438.67" width="5.5" height="206.63" fill="#00c800" fill-opacity="0.3"/>
<rect x="865.09" y="466.87" width="5.5" height="178.43" fill="#00c800" fill-opacity="0.3"/>
<rect x="871.93" y="480.66" width="5.5" height="164.64" fill="#00c800" fill-opacity="0.3"/>
<rect x="878.76" y="460.28" width="5.5" height="185.02" fill="#00c800" fill-opacity="0.3"/>
<rect x="885.60" y="422.61" width="5.5" height="222.69" fill="#00c800" fill-opacity="0.3"/>
<rect x="892.44" y="407.78" width="5.5" height="237.52" fill="#00c800" fill-opacity="0.3"/>
<rect x="899.27" y="420.63" width="5.5" height="224.67" fill="#00c800" fill-opacity="0.3"/>
<rect x="906.11" y="421.34" width="5.5" height="223.96" fill="#00c800" fill-opacity="0.3"/>
<rect x="912.95" y="398.08" width="5.5" height="247.22" fill="#00c800" fill-opacity="0.3"/>
<rect x="919.79" y="415.22" width="5.5" height="230.08" fill="#00c800" fill-opacity="0.3"/>
<rect x="926.62" y="428.78" width="5.5" height="216.52" fill="#00c800" fill-opacity="0.3"/>
<rect x="933.46" y="417.86" width="5.5" height="227.44" fill="#00c800" fill-opacity="0.3"/>
<rect x="940.30" y="398.79" width="5.5" height="246.51" fill="#00c800" fill-opacity="0.3"/>
<rect x="947.13" y="416.63" width="5.5" height="228.67" fill="#00c800" fill-opacity="0.3"/>
<rect x="953.97" y="412.44" width="5.5" height="232.86" fill="#00c800" fill-opacity="0.3"/>
<rect x="960.81" y="417.62" width="5.5" height="227.68" fill="#00c800" fill-opacity="0.3"/>
<rect x="967.64" y="389.09" width="5.5" height="256.21" fill="#00c800" fill-opacity="0.3"/>
<rect x="974.48" y="379.44" width="5.5" height="265.86" fill="#00c800" fill-opacity="0.3"/>
<rect x="981.32" y="389.61" width="5.5" height="255.69" fill="#00c800" fill-opacity="0.3"/>
<rect x="988.16" y="342.48" width="5.5" height="302.82" fill="#00c800" fill-opacity="0.3"/>
<rect x="994.99" y="376.71" width="5.5" height="268.59" fill="#00c800" fill-opacity="0.3"/>
<rect x="1001.83" y="380.29" width="5.5" height="265.01" fill="#00c800" fill-opacity="0.3"/>
<rect x="1008.67" y="376.71" width="5.5" height="268.59" fill="#00c800" fill-opacity="0.3"/>
<rect x="1015.50" y="358.35" width="5.5" height="286.95" fill="#00c800" fill-opacity="0.3"/>
<rect x="1022.34" y="374.54" width="5.5" height="270.76" fill="#00c800" fill-opacity="0.3"/>
<rect x="1029.18" y="362.21" width="5.5" height="283.09" fill="#00c800" fill-opacity="0.3"/>
<rect x="1036.02" y="405.47" width="5.5" height="239.83" fill="#00c800" fill-opacity="0.3"/>
<rect x="1042.85" y="396.72" width="5.5" height="248.58" fill="#00c800" fill-opacity="0.3"/>
<rect x="1049.69" y="397.28" width="5.5" height="248.02" fill="#00c800" fill-opacity="0.3"/>
<rect x="1056.53" y="321.91" width="5.5" height="323.39" fill="#00c800" fill-opacity="0.3"/>
<rect x="1063.36" y="332.88" width="5.5" height="312.42" fill="#00c800" fill-opacity="0.3"/>
<rect x="1070.20" y="309.57" width="5.5" height="335.73" fill="#00c800" fill-opacity="0.3"/>
<rect x="1077.04" y="300.53" width="5.5" height="344.77" fill="#00c800" fill-opacity="0.3"/>
<rect x="1083.87" y="308.77" width="5.5" height="336.53" fill="#00c800" fill-opacity="0.3"/>
<rect x="1090.71" y="330.15" width="5.5" height="315.15" fill="#00c800" fill-opacity="0.3"/>
<rect x="1097.55" y="321.91" width="5.5" height="323.39" fill="#00c800" fill-opacity="0.3"/>
<rect x="1104.38" y="334.24" width="5.5" height="311.06" fill="#00c800" fill-opacity="0.3"/>
<rect x="1111.22" y="366.59" width="5.5" height="278.71" fill="#00c800" fill-opacity="0.3"/>
<rect x="1118.06" y="336.46" width="5.5" height="308.84" fill="#00c800" fill-opacity="0.3"/>
<rect x="1124.90" y="345.78" width="5.5" height="299.52" fill="#00c800" fill-opacity="0.3"/>
<rect x="1131.73" y="317.25" width="5.5" height="328.05" fill="#00c800" fill-opacity="0.3"/>
<rect x="1138.57" y="323.27" width="5.5" height="322.03" fill="#00c800" fill-opacity="0.3"/>
<rect x="1145.41" y="295.35" width="5.5" height="349.95" fill="#00c800" fill-opacity="0.3"/>
<rect x="1152.24" y="262.45" width="5.5" height="382.85" fill="#00c800" fill-opacity="0.3"/>
<rect x="1159.08" y="296.44" width="5.5" height="348.86" fill="#00c800" fill-opacity="0.3"/>
<rect x="113.02" y="644.17" width="5.5" height="1.13" fill="#1f6fd8"/>
<rect x="119.86" y="644.17" width="5.5" height="1.13" fill="#1f6fd8"/>
<rect x="126.69" y="644.59" width="5.5" height="0.71" fill="#1f6fd8"/>
<rect x="133.53" y="644.41" width="5.5" height="0.89" fill="#1f6fd8"/>
<rect x="140.37" y="643.04" width="5.5" height="2.26" fill="#1f6fd8"/>
<rect x="147.20" y="644.41" width="5.5" height="0.89" fill="#1f6fd8"/>
<rect x="154.04" y="645.06" width="5.5" height="0.24" fill="#1f6fd8"/>
<rect x="160.88" y="641.44" width="5.5" height="3.86" fill="#1f6fd8"/>
<rect x="167.72" y="640.26" width="5.5" height="5.04" fill="#1f6fd8"/>
<rect x="174.55" y="645.06" width="5.5" height="0.24" fill="#1f6fd8"/>
<rect x="181.39" y="644.17" width="5.5" height="1.13" fill="#1f6fd8"/>
<rect x="188.23" y="644.17" width="5.5" height="1.13" fill="#1f6fd8"/>
<rect x="195.06" y="642.57" width="5.5" height="2.73" fill="#1f6fd8"/>
<rect x="201.90" y="641.86" width="5.5" height="3.44" fill="#1f6fd8"/>
<rect x="208.74" y="639.84" width="5.5" height="5.46" fill="#1f6fd8"/>
<rect x="215.57" y="643.23" width="5.5" height="2.07" fill="#1f6fd8"/>
<rect x="222.41" y="644.17" width="5.5" height="1.13" fill="#1f6fd8"/>
<rect x="229.25" y="644.17" width="5.5" height="1.13" fill="#1f6fd8"/>
<rect x="236.09" y="643.23" width="5.5" height="2.07" fill="#1f6fd8"/>
<rect x="242.92" y="644.17" width="5.5" height="1.13" fill="#1f6fd8"/>
<rect x="249.76" y="644.83" width="5.5" height="0.47" fill="#1f6fd8"/>
<rect x="256.60" y="643.70" width="5.5" height="1.60" fill="#1f6fd8"/>
<rect x="263.43" y="644.83" width="5.5" height="0.47" fill="#1f6fd8"/>
<rect x="270.27" y="644.17" width="5.5" height="1.13" fill="#1f6fd8"/>
<rect x="277.11" y="644.83" width="5.5" height="0.47" fill="#1f6fd8"/>
<rect x="283.94" y="643.70" width="5.5" height="1.60" fill="#1f6fd8"/>
<rect x="290.78" y="643.70" width="5.5" height="1.60" fill="#1f6fd8"/>
<rect x="297.62" y="642.57" width="5.5" height="2.73" fill="#1f6fd8"/>
<rect x="304.46" y="644.17" width="5.5" height="1.13" fill="#1f6fd8"/>
<rect x="311.29" y="644.83" width="5.5" height="0.47" fill="#1f6fd8"/>
<rect x="318.13" y="641.44" width="5.5" height="3.86" fill="#1f6fd8"/>
<rect x="324.97" y="644.17" width="5.5" height="1.13" fill="#1f6fd8"/>
<rect x="331.80" y="644.17" width="5.5" height="1.13" fill="#1f6fd8"/>
<rect x="338.64" y="635.27" width="5.5" height="10.03" fill="#1f6fd8"/>
<rect x="345.48" y="642.57" width="5.5" height="2.73" fill="#1f6fd8"/>
<rect x="352.31" y="643.04" width="5.5" height="2.26" fill="#1f6fd8"/>
<rect x="359.15" y="644.17" width="5.5" height="1.13" fill="#1f6fd8"/>
<rect x="365.99" y="641.44" width="5.5" height="3.86" fill="#1f6fd8"/>
<rect x="372.83" y="641.44" width="5.5" height="3.86" fill="#1f6fd8"/>
<rect x="379.66" y="639.13" width="5.5" height="6.17" fill="#1f6fd8"/>
<rect x="386.50" y="643.04" width="5.5" height="2.26" fill="#1f6fd8"/>
<rect x="393.34" y="644.83" width="5.5" height="0.47" fill="#1f6fd8"/>
<rect x="400.17" y="643.70" width="5.5" height="1.60" fill="#1f6fd8"/>
<rect x="407.01" y="644.17" width="5.5" height="1.13" fill="#1f6fd8"/>
<rect x="413.85" y="644.83" width="5.5" height="0.47" fill="#1f6fd8"/>
<rect x="420.68" y="644.17" width="5.5" height="1.13" fill="#1f6fd8"/>
<rect x="427.52" y="640.26" width="5.5" height="5.04" fill="#1f6fd8"/>
<rect x="434.36" y="644.17" width="5.5" height="1.13" fill="#1f6fd8"/>
<rect x="441.20" y="643.04" width="5.5" height="2.26" fill="#1f6fd8"/>
<rect x="448.03" y="640.26" width="5.5" height="5.04" fill="#1f6fd8"/>
<rect x="454.87" y="638.00" width="5.5" height="7.30" fill="#1f6fd8"/>
<rect x="461.71" y="642.57" width="5.5" height="2.73" fill="#1f6fd8"/>
<rect x="468.54" y="643.70" width="5.5" height="1.60" fill="#1f6fd8"/>
<rect x="475.38" y="641.44" width="5.5" height="3.86" fill="#1f6fd8"/>
<rect x="482.22" y="642.10" width="5.5" height="3.20" fill="#1f6fd8"/>
<rect x="489.05" y="643.23" width="5.5" height="2.07" fill="#1f6fd8"/>
<rect x="495.89" y="642.57" width="5.5" height="2.73" fill="#1f6fd8"/>
<rect x="509.57" y="643.70" width="5.5" height="1.60" fill="#1f6fd8"/>
<rect x="516.40" y="639.84" width="5.5" height="5.46" fill="#1f6fd8"/>
<rect x="523.24" y="640.26" width="5.5" height="5.04" fill="#1f6fd8"/>
<rect x="530.08" y="643.04" width="5.5" height="2.26" fill="#1f6fd8"/>
<rect x="536.91" y="639.13" width="5.5" height="6.17" fill="#1f6fd8"/>
<rect x="550.59" y="641.86" width="5.5" height="3.44" fill="#1f6fd8"/>
<rect x="557.42" y="643.23" width="5.5" height="2.07" fill="#1f6fd8"/>
<rect x="564.26" y="635.04" width="5.5" height="10.26" fill="#1f6fd8"/>
<rect x="571.10" y="640.26" width="5.5" height="5.04" fill="#1f6fd8"/>
<rect x="577.94" y="644.17" width="5.5" height="1.13" fill="#1f6fd8"/>
<rect x="584.77" y="644.83" width="5.5" height="0.47" fill="#1f6fd8"/>
<rect x="591.61" y="637.53" width="5.5" height="7.77" fill="#1f6fd8"/>
<rect x="598.45" y="640.26" width="5.5" height="5.04" fill="#1f6fd8"/>
<rect x="605.28" y="641.86" width="5.5" height="3.44" fill="#1f6fd8"/>
<rect x="612.12" y="641.86" width="5.5" height="3.44" fill="#1f6fd8"/>
<rect x="618.96" y="643.04" width="5.5" height="2.26" fill="#1f6fd8"/>
<rect x="625.79" y="642.10" width="5.5" height="3.20" fill="#1f6fd8"/>
<rect x="632.63" y="639.84" width="5.5" height="5.46" fill="#1f6fd8"/>
<rect x="659.98" y="641.44" width="5.5" height="3.86" fill="#1f6fd8"/>
<rect x="666.82" y="641.86" width="5.5" height="3.44" fill="#1f6fd8"/>
<rect x="673.65" y="630.47" width="5.5" height="14.83" fill="#1f6fd8"/>
<rect x="680.49" y="640.97" width="5.5" height="4.33" fill="#1f6fd8"/>
<rect x="687.33" y="638.43" width="5.5" height="6.87" fill="#1f6fd8"/>
<rect x="694.16" y="640.26" width="5.5" height="5.04" fill="#1f6fd8"/>
<rect x="701.00" y="639.84" width="5.5" height="5.46" fill="#1f6fd8"/>
<rect x="707.84" y="638.00" width="5.5" height="7.30" fill="#1f6fd8"/>
<rect x="714.68" y="636.83" width="5.5" height="8.47" fill="#1f6fd8"/>
<rect x="721.51" y="644.17" width="5.5" height="1.13" fill="#1f6fd8"/>
<rect x="728.35" y="638.66" width="5.5" height="6.64" fill="#1f6fd8"/>
<rect x="735.19" y="644.17" width="5.5" height="1.13" fill="#1f6fd8"/>
<rect x="742.02" y="637.30" width="5.5" height="8.00" fill="#1f6fd8"/>
<rect x="748.86" y="636.17" width="5.5" height="9.13" fill="#1f6fd8"/>
<rect x="755.70" y="636.17" width="5.5" height="9.13" fill="#1f6fd8"/>
<rect x="762.53" y="636.17" width="5.5" height="9.13" fill="#1f6fd8"/>
<rect x="769.37" y="640.26" width="5.5" height="5.04" fill="#1f6fd8"/>
<rect x="776.21" y="632.73" width="5.5" height="12.57" fill="#1f6fd8"/>
<rect x="783.05" y="634.57" width="5.5" height="10.73" fill="#1f6fd8"/>
<rect x="789.88" y="640.97" width="5.5" height="4.33" fill="#1f6fd8"/>
<rect x="796.72" y="639.13" width="5.5" height="6.17" fill="#1f6fd8"/>
<rect x="803.56" y="637.53" width="5.5" height="7.77" fill="#1f6fd8"/>
<rect x="810.39" y="636.17" width="5.5" height="9.13" fill="#1f6fd8"/>
<rect x="817.23" y="639.13" width="5.5" height="6.17" fill="#1f6fd8"/>
<rect x="824.07" y="638.66" width="5.5" height="6.64" fill="#1f6fd8"/>
<rect x="830.90" y="631.84" width="5.5" height="13.46" fill="#1f6fd8"/>
<rect x="837.74" y="635.70" width="5.5" height="9.60" fill="#1f6fd8"/>
<rect x="844.58" y="640.26" width="5.5" height="5.04" fill="#1f6fd8"/>
<rect x="851.42" y="632.26" width="5.5" height="13.04" fill="#1f6fd8"/>
<rect x="858.25" y="634.57" width="5.5" height="10.73" fill="#1f6fd8"/>
<rect x="865.09" y="630.71" width="5.5" height="14.59" fill="#1f6fd8"/>
<rect x="871.93" y="630.00" width="5.5" height="15.30" fill="#1f6fd8"/>
<rect x="878.76" y="639.65" width="5.5" height="5.65" fill="#1f6fd8"/>
<rect x="885.60" y="641.96" width="5.5" height="3.34" fill="#1f6fd8"/>
<rect x="892.44" y="637.58" width="5.5" height="7.72" fill="#1f6fd8"/>
<rect x="899.27" y="640.69" width="5.5" height="4.61" fill="#1f6fd8"/>
<rect x="906.11" y="639.65" width="5.5" height="5.65" fill="#1f6fd8"/>
<rect x="912.95" y="618.94" width="5.5" height="26.36" fill="#1f6fd8"/>
<rect x="919.79" y="622.56" width="5.5" height="22.74" fill="#1f6fd8"/>
<rect x="926.62" y="639.65" width="5.5" height="5.65" fill="#1f6fd8"/>
<rect x="933.46" y="625.15" width="5.5" height="20.15" fill="#1f6fd8"/>
<rect x="940.30" y="631.88" width="5.5" height="13.42" fill="#1f6fd8"/>
<rect x="947.13" y="619.97" width="5.5" height="25.33" fill="#1f6fd8"/>
<rect x="953.97" y="631.88" width="5.5" height="13.42" fill="#1f6fd8"/>
<rect x="960.81" y="635.74" width="5.5" height="9.56" fill="#1f6fd8"/>
<rect x="967.64" y="637.06" width="5.5" height="8.24" fill="#1f6fd8"/>
<rect x="974.48" y="640.17" width="5.5" height="5.13" fill="#1f6fd8"/>
<rect x="981.32" y="627.97" width="5.5" height="17.33" fill="#1f6fd8"/>
<rect x="988.16" y="629.81" width="5.5" height="15.49" fill="#1f6fd8"/>
<rect x="994.99" y="617.62" width="5.5" height="27.68" fill="#1f6fd8"/>
<rect x="1001.83" y="637.58" width="5.5" height="7.72" fill="#1f6fd8"/>
<rect x="1008.67" y="624.63" width="5.5" height="20.67" fill="#1f6fd8"/>
<rect x="1015.50" y="632.92" width="5.5" height="12.38" fill="#1f6fd8"/>
<rect x="1022.34" y="634.47" width="5.5" height="10.83" fill="#1f6fd8"/>
<rect x="1029.18" y="631.08" width="5.5" height="14.22" fill="#1f6fd8"/>
<rect x="1036.02" y="610.93" width="5.5" height="34.37" fill="#1f6fd8"/>
<rect x="1042.85" y="635.22" width="5.5" height="10.08" fill="#1f6fd8"/>
<rect x="1049.69" y="631.08" width="5.5" height="14.22" fill="#1f6fd8"/>
<rect x="1056.53" y="632.73" width="5.5" height="12.57" fill="#1f6fd8"/>
<rect x="1063.36" y="630.14" width="5.5" height="15.16" fill="#1f6fd8"/>
<rect x="1070.20" y="625.34" width="5.5" height="19.96" fill="#1f6fd8"/>
<rect x="1077.04" y="635.88" width="5.5" height="9.42" fill="#1f6fd8"/>
<rect x="1083.87" y="625.90" width="5.5" height="19.40" fill="#1f6fd8"/>
<rect x="1090.71" y="622.18" width="5.5" height="23.12" fill="#1f6fd8"/>
<rect x="1097.55" y="633.81" width="5.5" height="11.49" fill="#1f6fd8"/>
<rect x="1104.38" y="634.09" width="5.5" height="11.21" fill="#1f6fd8"/>
<rect x="1111.22" y="627.93" width="5.5" height="17.37" fill="#1f6fd8"/>
<rect x="1118.06" y="622.18" width="5.5" height="23.12" fill="#1f6fd8"/>
<rect x="1124.90" y="634.09" width="5.5" height="11.21" fill="#1f6fd8"/>
<rect x="1131.73" y="630.14" width="5.5" height="15.16" fill="#1f6fd8"/>
<rect x="1138.57" y="629.06" width="5.5" height="16.24" fill="#1f6fd8"/>
<rect x="1145.41" y="615.36" width="5.5" height="29.94" fill="#1f6fd8"/>
<rect x="1152.24" y="611.21" width="5.5" height="34.09" fill="#1f6fd8"/>
<rect x="1159.08" y="633.15" width="5.5" height="12.15" fill="#1f6fd8"/>
<line x1="40.4" x2="40.4" y1="33.2" y2="646.3" stroke="#c2c2c2" stroke-width="1"/>
<line x1="1271.4" x2="1271.4" y1="33.2" y2="646.3" stroke="#c2c2c2" stroke-width="1"/>
<line x1="40.4" x2="1271.4" y1="645.0" y2="645.0" stroke="#bcbcbc" stroke-width="1"/>
<line x1="36" x2="40.4" y1="645.3" y2="645.3" stroke="#c4c4c4" stroke-width="0.8"/>
<line x1="1271.4" x2="1275.4" y1="645.3" y2="645.3" stroke="#c4c4c4" stroke-width="0.8"/>
<text x="34" y="647.5" text-anchor="end" font-family="'Liberation Sans', sans-serif" font-size="6.2" fill="#333">0MW</text>
<text x="1276.6" y="647.8" font-family="'Liberation Sans', sans-serif" font-size="6.8" fill="#333">0.00%</text>
<line x1="36" x2="40.4" y1="598.2" y2="598.2" stroke="#c4c4c4" stroke-width="0.8"/>
<line x1="1271.4" x2="1275.4" y1="598.2" y2="598.2" stroke="#c4c4c4" stroke-width="0.8"/>
<text x="34" y="600.4" text-anchor="end" font-family="'Liberation Sans', sans-serif" font-size="6.2" fill="#333">1000MW</text>
<text x="1276.6" y="600.7" font-family="'Liberation Sans', sans-serif" font-size="6.8" fill="#333">10.00%</text>
<line x1="36" x2="40.4" y1="551.1" y2="551.1" stroke="#c4c4c4" stroke-width="0.8"/>
<line x1="1271.4" x2="1275.4" y1="551.1" y2="551.1" stroke="#c4c4c4" stroke-width="0.8"/>
<text x="34" y="553.3" text-anchor="end" font-family="'Liberation Sans', sans-serif" font-size="6.2" fill="#333">2000MW</text>
<text x="1276.6" y="553.6" font-family="'Liberation Sans', sans-serif" font-size="6.8" fill="#333">20.00%</text>
<line x1="36" x2="40.4" y1="504.1" y2="504.1" stroke="#c4c4c4" stroke-width="0.8"/>
<line x1="1271.4" x2="1275.4" y1="504.1" y2="504.1" stroke="#c4c4c4" stroke-width="0.8"/>
<text x="34" y="506.3" text-anchor="end" font-family="'Liberation Sans', sans-serif" font-size="6.2" fill="#333">3000MW</text>
<text x="1276.6" y="506.6" font-family="'Liberation Sans', sans-serif" font-size="6.8" fill="#333">30.00%</text>
<line x1="36" x2="40.4" y1="457.0" y2="457.0" stroke="#c4c4c4" stroke-width="0.8"/>
<line x1="1271.4" x2="1275.4" y1="457.0" y2="457.0" stroke="#c4c4c4" stroke-width="0.8"/>
<text x="34" y="459.2" text-anchor="end" font-family="'Liberation Sans', sans-serif" font-size="6.2" fill="#333">4000MW</text>
<text x="1276.6" y="459.5" font-family="'Liberation Sans', sans-serif" font-size="6.8" fill="#333">40.00%</text>
<line x1="36" x2="40.4" y1="409.9" y2="409.9" stroke="#c4c4c4" stroke-width="0.8"/>
<line x1="1271.4" x2="1275.4" y1="409.9" y2="409.9" stroke="#c4c4c4" stroke-width="0.8"/>
<text x="34" y="412.1" text-anchor="end" font-family="'Liberation Sans', sans-serif" font-size="6.2" fill="#333">5000MW</text>
<text x="1276.6" y="412.4" font-family="'Liberation Sans', sans-serif" font-size="6.8" fill="#333">50.00%</text>
<line x1="36" x2="40.4" y1="362.8" y2="362.8" stroke="#c4c4c4" stroke-width="0.8"/>
<line x1="1271.4" x2="1275.4" y1="362.8" y2="362.8" stroke="#c4c4c4" stroke-width="0.8"/>
<text x="34" y="365.0" text-anchor="end" font-family="'Liberation Sans', sans-serif" font-size="6.2" fill="#333">6000MW</text>
<text x="1276.6" y="365.3" font-family="'Liberation Sans', sans-serif" font-size="6.8" fill="#333">60.00%</text>
<line x1="36" x2="40.4" y1="315.7" y2="315.7" stroke="#c4c4c4" stroke-width="0.8"/>
<line x1="1271.4" x2="1275.4" y1="315.7" y2="315.7" stroke="#c4c4c4" stroke-width="0.8"/>
<text x="34" y="317.9" text-anchor="end" font-family="'Liberation Sans', sans-serif" font-size="6.2" fill="#333">7000MW</text>
<text x="1276.6" y="318.2" font-family="'Liberation Sans', sans-serif" font-size="6.8" fill="#333">70.00%</text>
<line x1="36" x2="40.4" y1="268.7" y2="268.7" stroke="#c4c4c4" stroke-width="0.8"/>
<line x1="1271.4" x2="1275.4" y1="268.7" y2="268.7" stroke="#c4c4c4" stroke-width="0.8"/>
<text x="34" y="270.9" text-anchor="end" font-family="'Liberation Sans', sans-serif" font-size="6.2" fill="#333">8000MW</text>
<text x="1276.6" y="271.2" font-family="'Liberation Sans', sans-serif" font-size="6.8" fill="#333">80.00%</text>
<line x1="36" x2="40.4" y1="221.6" y2="221.6" stroke="#c4c4c4" stroke-width="0.8"/>
<line x1="1271.4" x2="1275.4" y1="221.6" y2="221.6" stroke="#c4c4c4" stroke-width="0.8"/>
<text x="34" y="223.8" text-anchor="end" font-family="'Liberation Sans', sans-serif" font-size="6.2" fill="#333">9000MW</text>
<text x="1276.6" y="224.1" font-family="'Liberation Sans', sans-serif" font-size="6.8" fill="#333">90.00%</text>
<line x1="36" x2="40.4" y1="174.5" y2="174.5" stroke="#c4c4c4" stroke-width="0.8"/>
<line x1="1271.4" x2="1275.4" y1="174.5" y2="174.5" stroke="#c4c4c4" stroke-width="0.8"/>
<text x="34" y="176.7" text-anchor="end" font-family="'Liberation Sans', sans-serif" font-size="6.2" fill="#333">10000MW</text>
<text x="1276.6" y="177.0" font-family="'Liberation Sans', sans-serif" font-size="6.8" fill="#333">100.00%</text>
<line x1="36" x2="40.4" y1="127.4" y2="127.4" stroke="#c4c4c4" stroke-width="0.8"/>
<line x1="1271.4" x2="1275.4" y1="127.4" y2="127.4" stroke="#c4c4c4" stroke-width="0.8"/>
<text x="34" y="129.6" text-anchor="end" font-family="'Liberation Sans', sans-serif" font-size="6.2" fill="#333">11000MW</text>
<text x="1276.6" y="129.9" font-family="'Liberation Sans', sans-serif" font-size="6.8" fill="#333">110.00%</text>
<line x1="36" x2="40.4" y1="80.3" y2="80.3" stroke="#c4c4c4" stroke-width="0.8"/>
<line x1="1271.4" x2="1275.4" y1="80.3" y2="80.3" stroke="#c4c4c4" stroke-width="0.8"/>
<text x="34" y="82.5" text-anchor="end" font-family="'Liberation Sans', sans-serif" font-size="6.2" fill="#333">12000MW</text>
<text x="1276.6" y="82.8" font-family="'Liberation Sans', sans-serif" font-size="6.8" fill="#333">120.00%</text>
<line x1="36" x2="40.4" y1="33.3" y2="33.3" stroke="#c4c4c4" stroke-width="0.8"/>
<line x1="1271.4" x2="1275.4" y1="33.3" y2="33.3" stroke="#c4c4c4" stroke-width="0.8"/>
<text x="34" y="35.5" text-anchor="end" font-family="'Liberation Sans', sans-serif" font-size="6.2" fill="#333">13000MW</text>
<text x="1276.6" y="35.8" font-family="'Liberation Sans', sans-serif" font-size="6.8" fill="#333">130.00%</text>
<line x1="40.8" x2="40.8" y1="645.3" y2="648.3" stroke="#d4d4d4" stroke-width="0.8"/>
<text x="42.0" y="654.7" font-family="'DejaVu Sans', 'Liberation Sans', sans-serif" font-weight="bold" font-size="5.6" fill="#1a1a1a" stroke="#1a1a1a" stroke-width="0.12">2010</text>
<line x1="81.5" x2="81.5" y1="645.3" y2="648.3" stroke="#d4d4d4" stroke-width="0.8"/>
<text x="83.1" y="654.7" font-family="'Liberation Sans', sans-serif" font-size="6" fill="#333">Jul</text>
<line x1="122.8" x2="122.8" y1="645.3" y2="648.3" stroke="#d4d4d4" stroke-width="0.8"/>
<text x="124.0" y="654.7" font-family="'DejaVu Sans', 'Liberation Sans', sans-serif" font-weight="bold" font-size="5.6" fill="#1a1a1a" stroke="#1a1a1a" stroke-width="0.12">2011</text>
<line x1="163.4" x2="163.4" y1="645.3" y2="648.3" stroke="#d4d4d4" stroke-width="0.8"/>
<text x="165.0" y="654.7" font-family="'Liberation Sans', sans-serif" font-size="6" fill="#333">Jul</text>
<line x1="204.8" x2="204.8" y1="645.3" y2="648.3" stroke="#d4d4d4" stroke-width="0.8"/>
<text x="206.0" y="654.7" font-family="'DejaVu Sans', 'Liberation Sans', sans-serif" font-weight="bold" font-size="5.6" fill="#1a1a1a" stroke="#1a1a1a" stroke-width="0.12">2012</text>
<line x1="245.6" x2="245.6" y1="645.3" y2="648.3" stroke="#d4d4d4" stroke-width="0.8"/>
<text x="247.2" y="654.7" font-family="'Liberation Sans', sans-serif" font-size="6" fill="#333">Jul</text>
<line x1="287.0" x2="287.0" y1="645.3" y2="648.3" stroke="#d4d4d4" stroke-width="0.8"/>
<text x="288.2" y="654.7" font-family="'DejaVu Sans', 'Liberation Sans', sans-serif" font-weight="bold" font-size="5.6" fill="#1a1a1a" stroke="#1a1a1a" stroke-width="0.12">2013</text>
<line x1="327.6" x2="327.6" y1="645.3" y2="648.3" stroke="#d4d4d4" stroke-width="0.8"/>
<text x="329.2" y="654.7" font-family="'Liberation Sans', sans-serif" font-size="6" fill="#333">Jul</text>
<line x1="369.0" x2="369.0" y1="645.3" y2="648.3" stroke="#d4d4d4" stroke-width="0.8"/>
<text x="370.2" y="654.7" font-family="'DejaVu Sans', 'Liberation Sans', sans-serif" font-weight="bold" font-size="5.6" fill="#1a1a1a" stroke="#1a1a1a" stroke-width="0.12">2014</text>
<line x1="409.6" x2="409.6" y1="645.3" y2="648.3" stroke="#d4d4d4" stroke-width="0.8"/>
<text x="411.2" y="654.7" font-family="'Liberation Sans', sans-serif" font-size="6" fill="#333">Jul</text>
<line x1="450.9" x2="450.9" y1="645.3" y2="648.3" stroke="#d4d4d4" stroke-width="0.8"/>
<text x="452.1" y="654.7" font-family="'DejaVu Sans', 'Liberation Sans', sans-serif" font-weight="bold" font-size="5.6" fill="#1a1a1a" stroke="#1a1a1a" stroke-width="0.12">2015</text>
<line x1="491.6" x2="491.6" y1="645.3" y2="648.3" stroke="#d4d4d4" stroke-width="0.8"/>
<text x="493.2" y="654.7" font-family="'Liberation Sans', sans-serif" font-size="6" fill="#333">Jul</text>
<line x1="532.9" x2="532.9" y1="645.3" y2="648.3" stroke="#d4d4d4" stroke-width="0.8"/>
<text x="534.1" y="654.7" font-family="'DejaVu Sans', 'Liberation Sans', sans-serif" font-weight="bold" font-size="5.6" fill="#1a1a1a" stroke="#1a1a1a" stroke-width="0.12">2016</text>
<line x1="573.8" x2="573.8" y1="645.3" y2="648.3" stroke="#d4d4d4" stroke-width="0.8"/>
<text x="575.4" y="654.7" font-family="'Liberation Sans', sans-serif" font-size="6" fill="#333">Jul</text>
<line x1="615.1" x2="615.1" y1="645.3" y2="648.3" stroke="#d4d4d4" stroke-width="0.8"/>
<text x="616.3" y="654.7" font-family="'DejaVu Sans', 'Liberation Sans', sans-serif" font-weight="bold" font-size="5.6" fill="#1a1a1a" stroke="#1a1a1a" stroke-width="0.12">2017</text>
<line x1="655.8" x2="655.8" y1="645.3" y2="648.3" stroke="#d4d4d4" stroke-width="0.8"/>
<text x="657.4" y="654.7" font-family="'Liberation Sans', sans-serif" font-size="6" fill="#333">Jul</text>
<line x1="697.1" x2="697.1" y1="645.3" y2="648.3" stroke="#d4d4d4" stroke-width="0.8"/>
<text x="698.3" y="654.7" font-family="'DejaVu Sans', 'Liberation Sans', sans-serif" font-weight="bold" font-size="5.6" fill="#1a1a1a" stroke="#1a1a1a" stroke-width="0.12">2018</text>
<line x1="737.8" x2="737.8" y1="645.3" y2="648.3" stroke="#d4d4d4" stroke-width="0.8"/>
<text x="739.4" y="654.7" font-family="'Liberation Sans', sans-serif" font-size="6" fill="#333">Jul</text>
<line x1="779.1" x2="779.1" y1="645.3" y2="648.3" stroke="#d4d4d4" stroke-width="0.8"/>
<text x="780.3" y="654.7" font-family="'DejaVu Sans', 'Liberation Sans', sans-serif" font-weight="bold" font-size="5.6" fill="#1a1a1a" stroke="#1a1a1a" stroke-width="0.12">2019</text>
<line x1="819.8" x2="819.8" y1="645.3" y2="648.3" stroke="#d4d4d4" stroke-width="0.8"/>
<text x="821.4" y="654.7" font-family="'Liberation Sans', sans-serif" font-size="6" fill="#333">Jul</text>
<line x1="861.1" x2="861.1" y1="645.3" y2="648.3" stroke="#d4d4d4" stroke-width="0.8"/>
<text x="862.3" y="654.7" font-family="'DejaVu Sans', 'Liberation Sans', sans-serif" font-weight="bold" font-size="5.6" fill="#1a1a1a" stroke="#1a1a1a" stroke-width="0.12">2020</text>
<line x1="902.0" x2="902.0" y1="645.3" y2="648.3" stroke="#d4d4d4" stroke-width="0.8"/>
<text x="903.6" y="654.7" font-family="'Liberation Sans', sans-serif" font-size="6" fill="#333">Jul</text>
<line x1="943.3" x2="943.3" y1="645.3" y2="648.3" stroke="#d4d4d4" stroke-width="0.8"/>
<text x="944.5" y="654.7" font-family="'DejaVu Sans', 'Liberation Sans', sans-serif" font-weight="bold" font-size="5.6" fill="#1a1a1a" stroke="#1a1a1a" stroke-width="0.12">2021</text>
<line x1="984.0" x2="984.0" y1="645.3" y2="648.3" stroke="#d4d4d4" stroke-width="0.8"/>
<text x="985.6" y="654.7" font-family="'Liberation Sans', sans-serif" font-size="6" fill="#333">Jul</text>
<line x1="1025.3" x2="1025.3" y1="645.3" y2="648.3" stroke="#d4d4d4" stroke-width="0.8"/>
<text x="1026.5" y="654.7" font-family="'DejaVu Sans', 'Liberation Sans', sans-serif" font-weight="bold" font-size="5.6" fill="#1a1a1a" stroke="#1a1a1a" stroke-width="0.12">2022</text>
<line x1="1065.9" x2="1065.9" y1="645.3" y2="648.3" stroke="#d4d4d4" stroke-width="0.8"/>
<text x="1067.5" y="654.7" font-family="'Liberation Sans', sans-serif" font-size="6" fill="#333">Jul</text>
<line x1="1107.3" x2="1107.3" y1="645.3" y2="648.3" stroke="#d4d4d4" stroke-width="0.8"/>
<text x="1108.5" y="654.7" font-family="'DejaVu Sans', 'Liberation Sans', sans-serif" font-weight="bold" font-size="5.6" fill="#1a1a1a" stroke="#1a1a1a" stroke-width="0.12">2023</text>
<line x1="1147.9" x2="1147.9" y1="645.3" y2="648.3" stroke="#d4d4d4" stroke-width="0.8"/>
<text x="1149.5" y="654.7" font-family="'Liberation Sans', sans-serif" font-size="6" fill="#333">Jul</text>
<line x1="1189.2" x2="1189.2" y1="645.3" y2="648.3" stroke="#d4d4d4" stroke-width="0.8"/>
<text x="1190.4" y="654.7" font-family="'DejaVu Sans', 'Liberation Sans', sans-serif" font-weight="bold" font-size="5.6" fill="#1a1a1a" stroke="#1a1a1a" stroke-width="0.12">2024</text>
<line x1="1230.1" x2="1230.1" y1="645.3" y2="648.3" stroke="#d4d4d4" stroke-width="0.8"/>
<text x="1231.7" y="654.7" font-family="'Liberation Sans', sans-serif" font-size="6" fill="#333">Jul</text>
<rect x="40.4" y="22.1" width="1231.0" height="11.1" fill="#e8e8e8"/>
<line x1="40.8" x2="40.8" y1="22.1" y2="33.2" stroke="#efefef" stroke-width="1"/>
<text x="42.2" y="30.5" font-family="'DejaVu Sans', 'Liberation Sans', sans-serif" font-weight="bold" font-size="6.4" fill="#fafafa">2010</text>
<line x1="81.5" x2="81.5" y1="22.1" y2="33.2" stroke="#efefef" stroke-width="1"/>
<text x="82.5" y="30.5" font-family="'DejaVu Sans', 'Liberation Sans', sans-serif" font-size="6.2" fill="#fafafa">Jul</text>
<line x1="122.8" x2="122.8" y1="22.1" y2="33.2" stroke="#efefef" stroke-width="1"/>
<text x="124.2" y="30.5" font-family="'DejaVu Sans', 'Liberation Sans', sans-serif" font-weight="bold" font-size="6.4" fill="#fafafa">2011</text>
<line x1="163.4" x2="163.4" y1="22.1" y2="33.2" stroke="#efefef" stroke-width="1"/>
<text x="164.4" y="30.5" font-family="'DejaVu Sans', 'Liberation Sans', sans-serif" font-size="6.2" fill="#fafafa">Jul</text>
<line x1="204.8" x2="204.8" y1="22.1" y2="33.2" stroke="#efefef" stroke-width="1"/>
<text x="206.2" y="30.5" font-family="'DejaVu Sans', 'Liberation Sans', sans-serif" font-weight="bold" font-size="6.4" fill="#fafafa">2012</text>
<line x1="245.6" x2="245.6" y1="22.1" y2="33.2" stroke="#efefef" stroke-width="1"/>
<text x="246.6" y="30.5" font-family="'DejaVu Sans', 'Liberation Sans', sans-serif" font-size="6.2" fill="#fafafa">Jul</text>
<line x1="287.0" x2="287.0" y1="22.1" y2="33.2" stroke="#efefef" stroke-width="1"/>
<text x="288.4" y="30.5" font-family="'DejaVu Sans', 'Liberation Sans', sans-serif" font-weight="bold" font-size="6.4" fill="#fafafa">2013</text>
<line x1="327.6" x2="327.6" y1="22.1" y2="33.2" stroke="#efefef" stroke-width="1"/>
<text x="328.6" y="30.5" font-family="'DejaVu Sans', 'Liberation Sans', sans-serif" font-size="6.2" fill="#fafafa">Jul</text>
<line x1="369.0" x2="369.0" y1="22.1" y2="33.2" stroke="#efefef" stroke-width="1"/>
<text x="370.4" y="30.5" font-family="'DejaVu Sans', 'Liberation Sans', sans-serif" font-weight="bold" font-size="6.4" fill="#fafafa">2014</text>
<line x1="409.6" x2="409.6" y1="22.1" y2="33.2" stroke="#efefef" stroke-width="1"/>
<text x="410.6" y="30.5" font-family="'DejaVu Sans', 'Liberation Sans', sans-serif" font-size="6.2" fill="#fafafa">Jul</text>
<line x1="450.9" x2="450.9" y1="22.1" y2="33.2" stroke="#efefef" stroke-width="1"/>
<text x="452.3" y="30.5" font-family="'DejaVu Sans', 'Liberation Sans', sans-serif" font-weight="bold" font-size="6.4" fill="#fafafa">2015</text>
<line x1="491.6" x2="491.6" y1="22.1" y2="33.2" stroke="#efefef" stroke-width="1"/>
<text x="492.6" y="30.5" font-family="'DejaVu Sans', 'Liberation Sans', sans-serif" font-size="6.2" fill="#fafafa">Jul</text>
<line x1="532.9" x2="532.9" y1="22.1" y2="33.2" stroke="#efefef" stroke-width="1"/>
<text x="534.3" y="30.5" font-family="'DejaVu Sans', 'Liberation Sans', sans-serif" font-weight="bold" font-size="6.4" fill="#fafafa">2016</text>
<line x1="573.8" x2="573.8" y1="22.1" y2="33.2" stroke="#efefef" stroke-width="1"/>
<text x="574.8" y="30.5" font-family="'DejaVu Sans', 'Liberation Sans', sans-serif" font-size="6.2" fill="#fafafa">Jul</text>
<line x1="615.1" x2="615.1" y1="22.1" y2="33.2" stroke="#efefef" stroke-width="1"/>
<text x="616.5" y="30.5" font-family="'DejaVu Sans', 'Liberation Sans', sans-serif" font-weight="bold" font-size="6.4" fill="#fafafa">2017</text>
<line x1="655.8" x2="655.8" y1="22.1" y2="33.2" stroke="#efefef" stroke-width="1"/>
<text x="656.8" y="30.5" font-family="'DejaVu Sans', 'Liberation Sans', sans-serif" font-size="6.2" fill="#fafafa">Jul</text>
<line x1="697.1" x2="697.1" y1="22.1" y2="33.2" stroke="#efefef" stroke-width="1"/>
<text x="698.5" y="30.5" font-family="'DejaVu Sans', 'Liberation Sans', sans-serif" font-weight="bold" font-size="6.4" fill="#fafafa">2018</text>
<line x1="737.8" x2="737.8" y1="22.1" y2="33.2" stroke="#efefef" stroke-width="1"/>
<text x="738.8" y="30.5" font-family="'DejaVu Sans', 'Liberation Sans', sans-serif" font-size="6.2" fill="#fafafa">Jul</text>
<line x1="779.1" x2="779.1" y1="22.1" y2="33.2" stroke="#efefef" stroke-width="1"/>
<text x="780.5" y="30.5" font-family="'DejaVu Sans', 'Liberation Sans', sans-serif" font-weight="bold" font-size="6.4" fill="#fafafa">2019</text>
<line x1="819.8" x2="819.8" y1="22.1" y2="33.2" stroke="#efefef" stroke-width="1"/>
<text x="820.8" y="30.5" font-family="'DejaVu Sans', 'Liberation Sans', sans-serif" font-size="6.2" fill="#fafafa">Jul</text>
<line x1="861.1" x2="861.1" y1="22.1" y2="33.2" stroke="#efefef" stroke-width="1"/>
<text x="862.5" y="30.5" font-family="'DejaVu Sans', 'Liberation Sans', sans-serif" font-weight="bold" font-size="6.4" fill="#fafafa">2020</text>
<line x1="902.0" x2="902.0" y1="22.1" y2="33.2" stroke="#efefef" stroke-width="1"/>
<text x="903.0" y="30.5" font-family="'DejaVu Sans', 'Liberation Sans', sans-serif" font-size="6.2" fill="#fafafa">Jul</text>
<line x1="943.3" x2="943.3" y1="22.1" y2="33.2" stroke="#efefef" stroke-width="1"/>
<text x="944.7" y="30.5" font-family="'DejaVu Sans', 'Liberation Sans', sans-serif" font-weight="bold" font-size="6.4" fill="#fafafa">2021</text>
<line x1="984.0" x2="984.0" y1="22.1" y2="33.2" stroke="#efefef" stroke-width="1"/>
<text x="985.0" y="30.5" font-family="'DejaVu Sans', 'Liberation Sans', sans-serif" font-size="6.2" fill="#fafafa">Jul</text>
<line x1="1025.3" x2="1025.3" y1="22.1" y2="33.2" stroke="#efefef" stroke-width="1"/>
<text x="1026.7" y="30.5" font-family="'DejaVu Sans', 'Liberation Sans', sans-serif" font-weight="bold" font-size="6.4" fill="#fafafa">2022</text>
<line x1="1065.9" x2="1065.9" y1="22.1" y2="33.2" stroke="#efefef" stroke-width="1"/>
<text x="1066.9" y="30.5" font-family="'DejaVu Sans', 'Liberation Sans', sans-serif" font-size="6.2" fill="#fafafa">Jul</text>
<line x1="1107.3" x2="1107.3" y1="22.1" y2="33.2" stroke="#efefef" stroke-width="1"/>
<text x="1108.7" y="30.5" font-family="'DejaVu Sans', 'Liberation Sans', sans-serif" font-weight="bold" font-size="6.4" fill="#fafafa">2023</text>
<line x1="1147.9" x2="1147.9" y1="22.1" y2="33.2" stroke="#efefef" stroke-width="1"/>
<text x="1148.9" y="30.5" font-family="'DejaVu Sans', 'Liberation Sans', sans-serif" font-size="6.2" fill="#fafafa">Jul</text>
<line x1="1189.2" x2="1189.2" y1="22.1" y2="33.2" stroke="#efefef" stroke-width="1"/>
<text x="1190.6" y="30.5" font-family="'DejaVu Sans', 'Liberation Sans', sans-serif" font-weight="bold" font-size="6.4" fill="#fafafa">2024</text>
<line x1="1230.1" x2="1230.1" y1="22.1" y2="33.2" stroke="#efefef" stroke-width="1"/>
<text x="1231.1" y="30.5" font-family="'DejaVu Sans', 'Liberation Sans', sans-serif" font-size="6.2" fill="#fafafa">Jul</text>
<circle cx="40.3" cy="28.3" r="7.9" fill="#fff" stroke="#dcdcdc" stroke-width="0.6"/>
<rect x="39.0" y="25.1" width="0.8" height="5.6" fill="#b4b4b4"/><rect x="40.8" y="25.1" width="0.8" height="5.6" fill="#b4b4b4"/>
<circle cx="1271.2" cy="28.3" r="7.9" fill="#fff" stroke="#dcdcdc" stroke-width="0.6"/>
<rect x="1269.9" y="25.1" width="0.8" height="5.6" fill="#b4b4b4"/><rect x="1271.7" y="25.1" width="0.8" height="5.6" fill="#b4b4b4"/>
<line x1="563" y1="330.2" x2="1161.5" y2="638.6" stroke="#3838d0" stroke-width="2.1" stroke-linecap="round"/>
<line x1="504.4" y1="426.5" x2="655.5" y2="569.0" stroke="#e3141e" stroke-width="2.0" stroke-linecap="round"/>
<line x1="806" y1="311.2" x2="1146.5" y2="454.5" stroke="#e3141e" stroke-width="2.0" stroke-linecap="round"/>
<line x1="786" y1="319" x2="1133.8" y2="523.3" stroke="#e3141e" stroke-width="2.0" stroke-linecap="round"/>
<line x1="976" y1="187.5" x2="1156.5" y2="264.2" stroke="#1fa83a" stroke-width="2.0" stroke-linecap="round"/>
<line x1="1141" y1="116" x2="1162.5" y2="124.2" stroke="#686868" stroke-width="2.0" stroke-linecap="round"/>
<rect x="402.5" y="252.8" width="161.70000000000005" height="77.59999999999997" rx="6" ry="6" fill="#fff" stroke="#3838d0" stroke-width="2.0"/>
<text transform="translate(407.7,267.6) scale(0.95,1)" font-family="'DejaVu Sans', 'Liberation Sans', sans-serif" font-weight="bold" font-style="normal" font-size="8.0" fill="#3838d0" stroke="#3838d0" stroke-width="0.18">Low points in a month have <tspan font-style="italic">the</tspan></text>
<text transform="translate(407.7,278.0) scale(0.95,1)" font-family="'DejaVu Sans', 'Liberation Sans', sans-serif" font-weight="bold" font-style="normal" font-size="8.0" fill="#3838d0" stroke="#3838d0" stroke-width="0.18"><tspan font-style="italic">potential to be</tspan> increasingly</text>
<text transform="translate(407.7,288.4) scale(0.95,1)" font-family="'DejaVu Sans', 'Liberation Sans', sans-serif" font-weight="bold" font-style="normal" font-size="8.0" fill="#3838d0" stroke="#3838d0" stroke-width="0.18">'artificially' lower than aggregate</text>
<text transform="translate(407.7,298.9) scale(0.95,1)" font-family="'DejaVu Sans', 'Liberation Sans', sans-serif" font-weight="bold" font-style="normal" font-size="8.0" fill="#3838d0" stroke="#3838d0" stroke-width="0.18">capability due to curtailment -</text>
<text transform="translate(407.7,309.3) scale(0.95,1)" font-family="'DejaVu Sans', 'Liberation Sans', sans-serif" font-weight="bold" font-style="normal" font-size="8.0" fill="#3838d0" stroke="#3838d0" stroke-width="0.18">which <tspan font-style="italic">might be</tspan> for physical or</text>
<text transform="translate(407.7,319.7) scale(0.95,1)" font-family="'DejaVu Sans', 'Liberation Sans', sans-serif" font-weight="bold" font-style="normal" font-size="8.0" fill="#3838d0" stroke="#3838d0" stroke-width="0.18">commerical reasons</text>
<rect x="394.2" y="357.9" width="136.40000000000003" height="68.30000000000001" rx="6" ry="6" fill="#fff" stroke="#e3141e" stroke-width="2.0"/>
<text transform="translate(399.1,370.7) scale(0.95,1)" font-family="'DejaVu Sans', 'Liberation Sans', sans-serif" font-weight="bold" font-style="normal" font-size="8.0" fill="#e3141e" stroke="#e3141e" stroke-width="0.18">Aggregate Capacity Factor</text>
<text transform="translate(399.1,381.1) scale(0.95,1)" font-family="'DejaVu Sans', 'Liberation Sans', sans-serif" font-weight="bold" font-style="normal" font-size="8.0" fill="#e3141e" stroke="#e3141e" stroke-width="0.18">for the month of June 2017*</text>
<text transform="translate(399.1,391.6) scale(0.95,1)" font-family="'DejaVu Sans', 'Liberation Sans', sans-serif" font-weight="bold" font-style="normal" font-size="8.0" fill="#e3141e" stroke="#e3141e" stroke-width="0.18">was only 15.86%</text>
<text transform="translate(399.2,407.6) scale(1,1)" font-family="'DejaVu Sans', 'Liberation Sans', sans-serif" font-weight="bold" font-style="italic" font-size="5.65" fill="#e3141e">* i.e. with the 'Wind Drought' written</text>
<text transform="translate(399.2,414.7) scale(1,1)" font-family="'DejaVu Sans', 'Liberation Sans', sans-serif" font-weight="bold" font-style="italic" font-size="5.65" fill="#e3141e">about on WattClarity at the time.</text>
<rect x="670.6" y="249.4" width="137.19999999999993" height="69.29999999999998" rx="6" ry="6" fill="#fff" stroke="#e3141e" stroke-width="2.0"/>
<text transform="translate(677.9,263.8) scale(0.95,1)" font-family="'DejaVu Sans', 'Liberation Sans', sans-serif" font-weight="bold" font-style="normal" font-size="8.0" fill="#e3141e" stroke="#e3141e" stroke-width="0.18">Aggregate Capacity Factor</text>
<text transform="translate(677.9,274.2) scale(0.95,1)" font-family="'DejaVu Sans', 'Liberation Sans', sans-serif" font-weight="bold" font-style="normal" font-size="8.0" fill="#e3141e" stroke="#e3141e" stroke-width="0.18">for the month of June 2023</text>
<text transform="translate(677.9,284.7) scale(0.95,1)" font-family="'DejaVu Sans', 'Liberation Sans', sans-serif" font-weight="bold" font-style="normal" font-size="8.0" fill="#e3141e" stroke="#e3141e" stroke-width="0.18">was 40.93%</text>
<rect x="646.9" y="293.4" width="141.30000000000007" height="48.0" rx="6" ry="6" fill="#fff" stroke="#e3141e" stroke-width="2.0"/>
<text transform="translate(652.4,308.5) scale(0.95,1)" font-family="'DejaVu Sans', 'Liberation Sans', sans-serif" font-weight="bold" font-style="normal" font-size="8.0" fill="#e3141e" stroke="#e3141e" stroke-width="0.18">Aggregate Capacity Factor</text>
<text transform="translate(652.4,318.9) scale(0.95,1)" font-family="'DejaVu Sans', 'Liberation Sans', sans-serif" font-weight="bold" font-style="normal" font-size="8.0" fill="#e3141e" stroke="#e3141e" stroke-width="0.18">for the month of April 2022</text>
<text transform="translate(652.4,329.3) scale(0.95,1)" font-family="'DejaVu Sans', 'Liberation Sans', sans-serif" font-weight="bold" font-style="normal" font-size="8.0" fill="#e3141e" stroke="#e3141e" stroke-width="0.18">was 25.41%</text>
<rect x="849.2" y="144.7" width="127.59999999999991" height="65.70000000000002" rx="6" ry="6" fill="#fff" stroke="#1fa83a" stroke-width="2.0"/>
<text transform="translate(855.0,159.1) scale(0.95,1)" font-family="'DejaVu Sans', 'Liberation Sans', sans-serif" font-weight="bold" font-style="normal" font-size="8.0" fill="#1fa83a" stroke="#1fa83a" stroke-width="0.18">Maximum aggregate</text>
<text transform="translate(855.0,169.6) scale(0.95,1)" font-family="'DejaVu Sans', 'Liberation Sans', sans-serif" font-weight="bold" font-style="normal" font-size="8.0" fill="#1fa83a" stroke="#1fa83a" stroke-width="0.18">output from all wind</text>
<text transform="translate(855.0,180.1) scale(0.95,1)" font-family="'DejaVu Sans', 'Liberation Sans', sans-serif" font-weight="bold" font-style="normal" font-size="8.0" fill="#1fa83a" stroke="#1fa83a" stroke-width="0.18">farms reached 8,132MW</text>
<text transform="translate(855.0,190.5) scale(0.95,1)" font-family="'DejaVu Sans', 'Liberation Sans', sans-serif" font-weight="bold" font-style="normal" font-size="8.0" fill="#1fa83a" stroke="#1fa83a" stroke-width="0.18">on Friday 7th July 2023</text>
<text transform="translate(855.0,198.6) scale(1,1)" font-family="'DejaVu Sans', 'Liberation Sans', sans-serif" font-weight="bold" font-style="italic" font-size="5.65" fill="#1fa83a">(metered at 19:20 NEM time)</text>
<rect x="990.2" y="54.1" width="151.79999999999995" height="65.6" rx="6" ry="6" fill="#fff" stroke="#686868" stroke-width="2.0"/>
<text transform="translate(996.0,67.7) scale(0.95,1)" font-family="'DejaVu Sans', 'Liberation Sans', sans-serif" font-weight="bold" font-style="normal" font-size="8.0" fill="#686868" stroke="#686868" stroke-width="0.18">Total installed capacity*</text>
<text transform="translate(996.0,78.2) scale(0.95,1)" font-family="'DejaVu Sans', 'Liberation Sans', sans-serif" font-weight="bold" font-style="normal" font-size="8.0" fill="#686868" stroke="#686868" stroke-width="0.18">reaches 11,151MW at the end of</text>
<text transform="translate(996.0,88.6) scale(0.95,1)" font-family="'DejaVu Sans', 'Liberation Sans', sans-serif" font-weight="bold" font-style="normal" font-size="8.0" fill="#686868" stroke="#686868" stroke-width="0.18">August 2023.</text>
<text transform="translate(996.0,104.3) scale(1,1)" font-family="'DejaVu Sans', 'Liberation Sans', sans-serif" font-weight="normal" font-style="italic" font-size="6.4" fill="#666" stroke="#666" stroke-width="0.15">*  using registered Maximum Capacity of</text>
<text transform="translate(996.0,111.4) scale(1,1)" font-family="'DejaVu Sans', 'Liberation Sans', sans-serif" font-weight="normal" font-style="italic" font-size="6.4" fill="#666" stroke="#666" stroke-width="0.15">the measure of installed capacity</text>
<rect x="1173.6" y="560.9" width="94.60000000000014" height="70.70000000000005" rx="6" ry="6" fill="#fff" stroke="#111" stroke-width="2.2"/>
<text transform="translate(1180.0,575.8) scale(0.95,1)" font-family="'DejaVu Sans', 'Liberation Sans', sans-serif" font-weight="bold" font-style="normal" font-size="8.0" fill="#222" stroke="#222" stroke-width="0.18">Sept 2023 is an</text>
<text transform="translate(1180.0,586.2299999999999) scale(0.95,1)" font-family="'DejaVu Sans', 'Liberation Sans', sans-serif" font-weight="bold" font-style="normal" font-size="8.0" fill="#222" stroke="#222" stroke-width="0.18">incomplete month</text>
<text transform="translate(1180.0,596.66) scale(0.95,1)" font-family="'DejaVu Sans', 'Liberation Sans', sans-serif" font-weight="bold" font-style="normal" font-size="8.0" fill="#222" stroke="#222" stroke-width="0.18">(at this point) so no</text>
<text transform="translate(1180.0,607.0899999999999) scale(0.95,1)" font-family="'DejaVu Sans', 'Liberation Sans', sans-serif" font-weight="bold" font-style="normal" font-size="8.0" fill="#222" stroke="#222" stroke-width="0.18">monthly data</text>
<text transform="translate(1180.0,617.52) scale(0.95,1)" font-family="'DejaVu Sans', 'Liberation Sans', sans-serif" font-weight="bold" font-style="normal" font-size="8.0" fill="#222" stroke="#222" stroke-width="0.18">shown yet.</text>
<line x1="1164.7" x2="1164.7" y1="33.2" y2="645.3" stroke="#ee6a70" stroke-width="0.8" stroke-dasharray="1,1.2"/>
<text transform="translate(1162.2,641) rotate(-90)" font-family="'Liberation Sans', sans-serif" font-size="6.8" fill="#444">current point in time</text>
<text x="43.8" y="59.2" font-family="'Liberation Sans', sans-serif" font-weight="bold" font-size="24.5" fill="#2b282d" textLength="45.2" lengthAdjust="spacingAndGlyphs">NEM</text>
<text x="89.6" y="59.2" font-family="'DejaVu Sans', 'Liberation Sans', sans-serif" font-size="24.5" fill="#999" textLength="63.5" lengthAdjust="spacingAndGlyphs">review</text>
<text x="156" y="46" font-family="'Liberation Sans', sans-serif" font-size="4" fill="#555">TM</text>
<text x="124" y="65" font-family="'Liberation Sans', sans-serif" font-weight="bold" font-size="4.8" fill="#333">by Global-Roam</text>
<rect x="168.7" y="35.6" width="1.8" height="29" fill="#2b282d"/>
<polyline points="170.3,47.3 175.8,39.7 184,59.7 199.2,47.3 202,50" fill="none" stroke="#3a63b8" stroke-width="1.4"/>
<polyline points="170.7,57.6 179.2,53.5 185.4,39 195,60.4 202,58.6" fill="none" stroke="#e5333b" stroke-width="1.4"/>
<text x="147.3" y="76.4" font-family="'Liberation Sans', sans-serif" font-size="5.5" fill="#4a78c8" text-decoration="underline">www.NEMreview.info</text>
<circle cx="1290.8" cy="28.8" r="11.2" fill="#8bb0de" fill-opacity="0.72"/>
<path d="M1289.6,23.8 h2.4 v4 h2.2 l-3.4,3.6 l-3.4,-3.6 h2.2 z" fill="#fff"/>
</svg>
</body></html>
